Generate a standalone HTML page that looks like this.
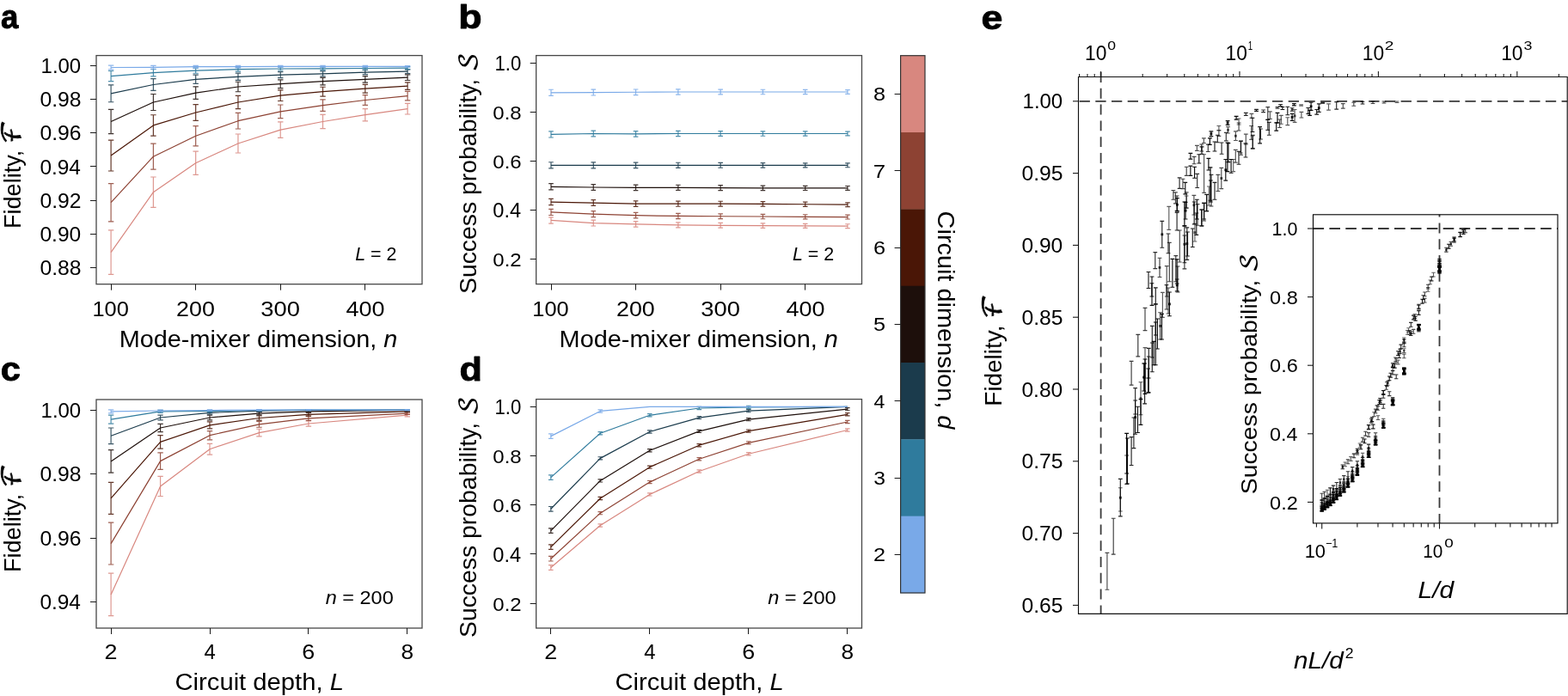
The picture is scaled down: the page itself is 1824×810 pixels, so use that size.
<!DOCTYPE html>
<html><head><meta charset="utf-8"><title>Figure</title>
<style>html,body{margin:0;padding:0;background:#fff;width:1824px;height:810px;overflow:hidden}
svg{display:block} text{font-family:"Liberation Sans", Arial, sans-serif;fill:#000}</style></head>
<body><svg width="1824" height="810" viewBox="0 0 1824 810">
<rect width="1824" height="810" fill="#fff"/>
<text transform="translate(1.09,33.35) scale(0.9286,1.0000)" font-size="39.5" stroke="#000" stroke-width="0.9" stroke-linejoin="round" style="fill:#000"><tspan font-weight="bold">a</tspan></text>
<text transform="translate(533.31,33.45) scale(1.1350,1.0000)" font-size="39.5" stroke="#000" stroke-width="0.9" stroke-linejoin="round" style="fill:#000"><tspan font-weight="bold">b</tspan></text>
<text transform="translate(0.77,443.45) scale(1.0545,1.0000)" font-size="39.5" stroke="#000" stroke-width="0.9" stroke-linejoin="round" style="fill:#000"><tspan font-weight="bold">c</tspan></text>
<text transform="translate(534.51,443.45) scale(1.0950,1.0000)" font-size="39.5" stroke="#000" stroke-width="0.9" stroke-linejoin="round" style="fill:#000"><tspan font-weight="bold">d</tspan></text>
<text transform="translate(1141.55,33.55) scale(1.1325,1.0000)" font-size="39.5" stroke="#000" stroke-width="0.9" stroke-linejoin="round" style="fill:#000"><tspan font-weight="bold">e</tspan></text>
<polyline points="129.10,293.60 178.38,223.70 227.67,189.70 276.95,167.00 326.24,151.10 375.52,141.50 424.81,133.70 474.10,126.70" fill="none" stroke="#D8877F" stroke-width="1.2" stroke-linejoin="round"/>
<path d="M129.10 267.81V319.39M125.90 267.81H132.30M125.90 319.39H132.30" stroke="#D8877F" stroke-width="1.2" fill="none" stroke-opacity="0.85"/>
<path d="M178.38 206.01V241.39M175.19 206.01H181.58M175.19 241.39H181.58" stroke="#D8877F" stroke-width="1.2" fill="none" stroke-opacity="0.85"/>
<path d="M227.67 176.07V203.33M224.47 176.07H230.87M224.47 203.33H230.87" stroke="#D8877F" stroke-width="1.2" fill="none" stroke-opacity="0.85"/>
<path d="M276.95 155.98V178.02M273.75 155.98H280.15M273.75 178.02H280.15" stroke="#D8877F" stroke-width="1.2" fill="none" stroke-opacity="0.85"/>
<path d="M326.24 141.88V160.32M323.04 141.88H329.44M323.04 160.32H329.44" stroke="#D8877F" stroke-width="1.2" fill="none" stroke-opacity="0.85"/>
<path d="M375.52 133.47V149.53M372.32 133.47H378.72M372.32 149.53H378.72" stroke="#D8877F" stroke-width="1.2" fill="none" stroke-opacity="0.85"/>
<path d="M424.81 126.61V140.79M421.61 126.61H428.01M421.61 140.79H428.01" stroke="#D8877F" stroke-width="1.2" fill="none" stroke-opacity="0.85"/>
<path d="M474.10 120.40V133.00M470.90 120.40H477.30M470.90 133.00H477.30" stroke="#D8877F" stroke-width="1.2" fill="none" stroke-opacity="0.85"/>
<polyline points="129.10,235.70 178.38,182.20 227.67,158.30 276.95,140.70 326.24,129.80 375.52,122.70 424.81,116.50 474.10,111.60" fill="none" stroke="#8D4233" stroke-width="1.2" stroke-linejoin="round"/>
<path d="M129.10 213.62V257.78M125.90 213.62H132.30M125.90 257.78H132.30" stroke="#8D4233" stroke-width="1.2" fill="none" stroke-opacity="0.85"/>
<path d="M178.38 167.21V197.19M175.19 167.21H181.58M175.19 197.19H181.58" stroke="#8D4233" stroke-width="1.2" fill="none" stroke-opacity="0.85"/>
<path d="M227.67 146.71V169.89M224.47 146.71H230.87M224.47 169.89H230.87" stroke="#8D4233" stroke-width="1.2" fill="none" stroke-opacity="0.85"/>
<path d="M276.95 131.42V149.98M273.75 131.42H280.15M273.75 149.98H280.15" stroke="#8D4233" stroke-width="1.2" fill="none" stroke-opacity="0.85"/>
<path d="M326.24 122.01V137.59M323.04 122.01H329.44M323.04 137.59H329.44" stroke="#8D4233" stroke-width="1.2" fill="none" stroke-opacity="0.85"/>
<path d="M375.52 115.93V129.47M372.32 115.93H378.72M372.32 129.47H378.72" stroke="#8D4233" stroke-width="1.2" fill="none" stroke-opacity="0.85"/>
<path d="M424.81 110.57V122.43M421.61 110.57H428.01M421.61 122.43H428.01" stroke="#8D4233" stroke-width="1.2" fill="none" stroke-opacity="0.85"/>
<path d="M474.10 106.33V116.87M470.90 106.33H477.30M470.90 116.87H477.30" stroke="#8D4233" stroke-width="1.2" fill="none" stroke-opacity="0.85"/>
<polyline points="129.10,181.10 178.38,145.90 227.67,131.00 276.95,119.00 326.24,111.20 375.52,106.70 424.81,103.20 474.10,100.10" fill="none" stroke="#4A1606" stroke-width="1.2" stroke-linejoin="round"/>
<path d="M129.10 163.20V199.00M125.90 163.20H132.30M125.90 199.00H132.30" stroke="#4A1606" stroke-width="1.2" fill="none" stroke-opacity="0.85"/>
<path d="M178.38 133.75V158.05M175.19 133.75H181.58M175.19 158.05H181.58" stroke="#4A1606" stroke-width="1.2" fill="none" stroke-opacity="0.85"/>
<path d="M227.67 121.54V140.46M224.47 121.54H230.87M224.47 140.46H230.87" stroke="#4A1606" stroke-width="1.2" fill="none" stroke-opacity="0.85"/>
<path d="M276.95 111.45V126.55M273.75 111.45H280.15M273.75 126.55H280.15" stroke="#4A1606" stroke-width="1.2" fill="none" stroke-opacity="0.85"/>
<path d="M326.24 104.91V117.49M323.04 104.91H329.44M323.04 117.49H329.44" stroke="#4A1606" stroke-width="1.2" fill="none" stroke-opacity="0.85"/>
<path d="M375.52 101.23V112.17M372.32 101.23H378.72M372.32 112.17H378.72" stroke="#4A1606" stroke-width="1.2" fill="none" stroke-opacity="0.85"/>
<path d="M424.81 98.35V108.05M421.61 98.35H428.01M421.61 108.05H428.01" stroke="#4A1606" stroke-width="1.2" fill="none" stroke-opacity="0.85"/>
<path d="M474.10 95.78V104.42M470.90 95.78H477.30M470.90 104.42H477.30" stroke="#4A1606" stroke-width="1.2" fill="none" stroke-opacity="0.85"/>
<polyline points="129.10,141.50 178.38,119.00 227.67,108.10 276.95,101.00 326.24,97.70 375.52,94.60 424.81,92.30 474.10,90.20" fill="none" stroke="#1D0F0B" stroke-width="1.2" stroke-linejoin="round"/>
<path d="M129.10 127.39V155.61M125.90 127.39H132.30M125.90 155.61H132.30" stroke="#1D0F0B" stroke-width="1.2" fill="none" stroke-opacity="0.85"/>
<path d="M178.38 109.49V128.51M175.19 109.49H181.58M175.19 128.51H181.58" stroke="#1D0F0B" stroke-width="1.2" fill="none" stroke-opacity="0.85"/>
<path d="M227.67 100.90V115.30M224.47 100.90H230.87M224.47 115.30H230.87" stroke="#1D0F0B" stroke-width="1.2" fill="none" stroke-opacity="0.85"/>
<path d="M276.95 95.26V106.74M273.75 95.26H280.15M273.75 106.74H280.15" stroke="#1D0F0B" stroke-width="1.2" fill="none" stroke-opacity="0.85"/>
<path d="M326.24 92.79V102.61M323.04 92.79H329.44M323.04 102.61H329.44" stroke="#1D0F0B" stroke-width="1.2" fill="none" stroke-opacity="0.85"/>
<path d="M375.52 90.36V98.84M372.32 90.36H378.72M372.32 98.84H378.72" stroke="#1D0F0B" stroke-width="1.2" fill="none" stroke-opacity="0.85"/>
<path d="M424.81 88.57V96.03M421.61 88.57H428.01M421.61 96.03H428.01" stroke="#1D0F0B" stroke-width="1.2" fill="none" stroke-opacity="0.85"/>
<path d="M474.10 86.91V93.49M470.90 86.91H477.30M470.90 93.49H477.30" stroke="#1D0F0B" stroke-width="1.2" fill="none" stroke-opacity="0.85"/>
<polyline points="129.10,108.80 178.38,98.50 227.67,92.30 276.95,89.30 326.24,87.20 375.52,85.90 424.81,84.10 474.10,83.20" fill="none" stroke="#1B3B4C" stroke-width="1.2" stroke-linejoin="round"/>
<path d="M129.10 98.85V118.75M125.90 98.85H132.30M125.90 118.75H132.30" stroke="#1B3B4C" stroke-width="1.2" fill="none" stroke-opacity="0.85"/>
<path d="M178.38 91.66V105.34M175.19 91.66H181.58M175.19 105.34H181.58" stroke="#1B3B4C" stroke-width="1.2" fill="none" stroke-opacity="0.85"/>
<path d="M227.67 87.21V97.39M224.47 87.21H230.87M224.47 97.39H230.87" stroke="#1B3B4C" stroke-width="1.2" fill="none" stroke-opacity="0.85"/>
<path d="M276.95 85.15V93.45M273.75 85.15H280.15M273.75 93.45H280.15" stroke="#1B3B4C" stroke-width="1.2" fill="none" stroke-opacity="0.85"/>
<path d="M326.24 83.71V90.69M323.04 83.71H329.44M323.04 90.69H329.44" stroke="#1B3B4C" stroke-width="1.2" fill="none" stroke-opacity="0.85"/>
<path d="M375.52 82.85V88.95M372.32 82.85H378.72M372.32 88.95H378.72" stroke="#1B3B4C" stroke-width="1.2" fill="none" stroke-opacity="0.85"/>
<path d="M424.81 81.51V86.69M421.61 81.51H428.01M421.61 86.69H428.01" stroke="#1B3B4C" stroke-width="1.2" fill="none" stroke-opacity="0.85"/>
<path d="M474.10 80.90V85.50M470.90 80.90H477.30M470.90 85.50H477.30" stroke="#1B3B4C" stroke-width="1.2" fill="none" stroke-opacity="0.85"/>
<polyline points="129.10,88.60 178.38,84.70 227.67,82.20 276.95,80.70 326.24,80.00 375.52,79.80 424.81,79.50 474.10,79.10" fill="none" stroke="#2F7B9D" stroke-width="1.2" stroke-linejoin="round"/>
<path d="M129.10 82.51V94.69M125.90 82.51H132.30M125.90 94.69H132.30" stroke="#2F7B9D" stroke-width="1.2" fill="none" stroke-opacity="0.85"/>
<path d="M178.38 80.52V88.88M175.19 80.52H181.58M175.19 88.88H181.58" stroke="#2F7B9D" stroke-width="1.2" fill="none" stroke-opacity="0.85"/>
<path d="M227.67 79.14V85.26M224.47 79.14H230.87M224.47 85.26H230.87" stroke="#2F7B9D" stroke-width="1.2" fill="none" stroke-opacity="0.85"/>
<path d="M276.95 78.33V83.07M273.75 78.33H280.15M273.75 83.07H280.15" stroke="#2F7B9D" stroke-width="1.2" fill="none" stroke-opacity="0.85"/>
<path d="M326.24 78.00V82.00M323.04 78.00H329.44M323.04 82.00H329.44" stroke="#2F7B9D" stroke-width="1.2" fill="none" stroke-opacity="0.85"/>
<path d="M375.52 77.99V81.61M372.32 77.99H378.72M372.32 81.61H378.72" stroke="#2F7B9D" stroke-width="1.2" fill="none" stroke-opacity="0.85"/>
<path d="M424.81 77.88V81.12M421.61 77.88H428.01M421.61 81.12H428.01" stroke="#2F7B9D" stroke-width="1.2" fill="none" stroke-opacity="0.85"/>
<path d="M474.10 77.67V80.53M470.90 77.67H477.30M470.90 80.53H477.30" stroke="#2F7B9D" stroke-width="1.2" fill="none" stroke-opacity="0.85"/>
<polyline points="129.10,78.50 178.38,78.30 227.67,77.70 276.95,77.70 326.24,77.30 375.52,77.30 424.81,77.30 474.10,77.30" fill="none" stroke="#79A9E8" stroke-width="1.2" stroke-linejoin="round"/>
<path d="M129.10 76.03V80.97M125.90 76.03H132.30M125.90 80.97H132.30" stroke="#79A9E8" stroke-width="1.2" fill="none" stroke-opacity="0.85"/>
<path d="M178.38 76.34V80.26M175.19 76.34H181.58M175.19 80.26H181.58" stroke="#79A9E8" stroke-width="1.2" fill="none" stroke-opacity="0.85"/>
<path d="M227.67 76.30V79.10M224.47 76.30H230.87M224.47 79.10H230.87" stroke="#79A9E8" stroke-width="1.2" fill="none" stroke-opacity="0.85"/>
<path d="M276.95 76.43V78.97M273.75 76.43H280.15M273.75 78.97H280.15" stroke="#79A9E8" stroke-width="1.2" fill="none" stroke-opacity="0.85"/>
<path d="M326.24 76.35V78.25M323.04 76.35H329.44M323.04 78.25H329.44" stroke="#79A9E8" stroke-width="1.2" fill="none" stroke-opacity="0.85"/>
<path d="M375.52 76.41V78.19M372.32 76.41H378.72M372.32 78.19H378.72" stroke="#79A9E8" stroke-width="1.2" fill="none" stroke-opacity="0.85"/>
<path d="M424.81 76.46V78.14M421.61 76.46H428.01M421.61 78.14H428.01" stroke="#79A9E8" stroke-width="1.2" fill="none" stroke-opacity="0.85"/>
<path d="M474.10 76.50V78.10M470.90 76.50H477.30M470.90 78.10H477.30" stroke="#79A9E8" stroke-width="1.2" fill="none" stroke-opacity="0.85"/>
<rect x="112.00" y="64.60" width="379.00" height="266.10" fill="none" stroke="#474747" stroke-width="1.3"/>
<line x1="105.00" y1="76.50" x2="112.00" y2="76.50" stroke="#1a1a1a" stroke-width="1.05"/>
<text transform="translate(47.58,85.25) scale(1.0414,1.0000)" font-size="23" ><tspan>1.00</tspan></text>
<line x1="105.00" y1="115.50" x2="112.00" y2="115.50" stroke="#1a1a1a" stroke-width="1.05"/>
<text transform="translate(46.39,124.35) scale(1.0744,1.0000)" font-size="23" ><tspan>0.98</tspan></text>
<line x1="105.00" y1="154.50" x2="112.00" y2="154.50" stroke="#1a1a1a" stroke-width="1.05"/>
<text transform="translate(46.39,163.45) scale(1.0744,1.0000)" font-size="23" ><tspan>0.96</tspan></text>
<line x1="105.00" y1="193.50" x2="112.00" y2="193.50" stroke="#1a1a1a" stroke-width="1.05"/>
<text transform="translate(46.40,202.55) scale(1.0621,1.0000)" font-size="23" ><tspan>0.94</tspan></text>
<line x1="105.00" y1="233.50" x2="112.00" y2="233.50" stroke="#1a1a1a" stroke-width="1.05"/>
<text transform="translate(46.39,241.65) scale(1.0744,1.0000)" font-size="23" ><tspan>0.92</tspan></text>
<line x1="105.00" y1="272.50" x2="112.00" y2="272.50" stroke="#1a1a1a" stroke-width="1.05"/>
<text transform="translate(46.40,280.75) scale(1.0682,1.0000)" font-size="23" ><tspan>0.90</tspan></text>
<line x1="105.00" y1="311.50" x2="112.00" y2="311.50" stroke="#1a1a1a" stroke-width="1.05"/>
<text transform="translate(46.39,319.85) scale(1.0744,1.0000)" font-size="23" ><tspan>0.88</tspan></text>
<line x1="129.50" y1="330.70" x2="129.50" y2="337.70" stroke="#1a1a1a" stroke-width="1.05"/>
<text transform="translate(107.42,368.30) scale(1.1049,1.0000)" font-size="23" ><tspan>100</tspan></text>
<line x1="227.50" y1="330.70" x2="227.50" y2="337.70" stroke="#1a1a1a" stroke-width="1.05"/>
<text transform="translate(205.06,368.30) scale(1.1669,1.0000)" font-size="23" ><tspan>200</tspan></text>
<line x1="326.50" y1="330.70" x2="326.50" y2="337.70" stroke="#1a1a1a" stroke-width="1.05"/>
<text transform="translate(303.35,368.30) scale(1.1890,1.0000)" font-size="23" ><tspan>300</tspan></text>
<line x1="424.50" y1="330.70" x2="424.50" y2="337.70" stroke="#1a1a1a" stroke-width="1.05"/>
<text transform="translate(402.52,368.30) scale(1.1730,1.0000)" font-size="23" ><tspan>400</tspan></text>
<text transform="translate(138.70,403.50) scale(1.0684,1.0000)" font-size="27" ><tspan>Mode-mixer dimension, </tspan><tspan font-style="italic">n</tspan></text>
<text transform="translate(413.19,303.00) scale(0.9531,1.0000)" font-size="22.5" ><tspan font-style="italic">L</tspan><tspan> = 2</tspan></text>
<text transform="translate(24.20,265.95) rotate(-90) scale(1.0016,1.0000)" font-size="27" ><tspan>Fidelity, </tspan><tspan stroke="#111" stroke-width="0.9" font-family='"DejaVu Math TeX Gyre", "DejaVu Sans", serif' font-size="1.100em">ℱ</tspan></text>
<polyline points="641.00,256.45 690.28,259.56 739.57,260.96 788.86,261.87 838.14,262.30 887.42,262.59 936.71,262.87 986.00,263.16" fill="none" stroke="#D8877F" stroke-width="1.2" stroke-linejoin="round"/>
<path d="M641.00 252.85V260.05M638.20 252.85H643.80M638.20 260.05H643.80" stroke="#D8877F" stroke-width="1.2" fill="none" stroke-opacity="0.85"/>
<path d="M690.28 256.13V262.99M687.49 256.13H693.08M687.49 262.99H693.08" stroke="#D8877F" stroke-width="1.2" fill="none" stroke-opacity="0.85"/>
<path d="M739.57 257.70V264.22M736.77 257.70H742.37M736.77 264.22H742.37" stroke="#D8877F" stroke-width="1.2" fill="none" stroke-opacity="0.85"/>
<path d="M788.86 258.79V264.96M786.06 258.79H791.65M786.06 264.96H791.65" stroke="#D8877F" stroke-width="1.2" fill="none" stroke-opacity="0.85"/>
<path d="M838.14 259.39V265.22M835.34 259.39H840.94M835.34 265.22H840.94" stroke="#D8877F" stroke-width="1.2" fill="none" stroke-opacity="0.85"/>
<path d="M887.42 259.84V265.33M884.62 259.84H890.22M884.62 265.33H890.22" stroke="#D8877F" stroke-width="1.2" fill="none" stroke-opacity="0.85"/>
<path d="M936.71 260.30V265.44M933.91 260.30H939.51M933.91 265.44H939.51" stroke="#D8877F" stroke-width="1.2" fill="none" stroke-opacity="0.85"/>
<path d="M986.00 260.76V265.56M983.20 260.76H988.79M983.20 265.56H988.79" stroke="#D8877F" stroke-width="1.2" fill="none" stroke-opacity="0.85"/>
<polyline points="641.00,246.91 690.28,249.11 739.57,250.71 788.86,251.45 838.14,251.74 887.42,252.02 936.71,252.31 986.00,252.59" fill="none" stroke="#8D4233" stroke-width="1.2" stroke-linejoin="round"/>
<path d="M641.00 243.31V250.51M638.20 243.31H643.80M638.20 250.51H643.80" stroke="#8D4233" stroke-width="1.2" fill="none" stroke-opacity="0.85"/>
<path d="M690.28 245.68V252.54M687.49 245.68H693.08M687.49 252.54H693.08" stroke="#8D4233" stroke-width="1.2" fill="none" stroke-opacity="0.85"/>
<path d="M739.57 247.45V253.97M736.77 247.45H742.37M736.77 253.97H742.37" stroke="#8D4233" stroke-width="1.2" fill="none" stroke-opacity="0.85"/>
<path d="M788.86 248.37V254.54M786.06 248.37H791.65M786.06 254.54H791.65" stroke="#8D4233" stroke-width="1.2" fill="none" stroke-opacity="0.85"/>
<path d="M838.14 248.82V254.65M835.34 248.82H840.94M835.34 254.65H840.94" stroke="#8D4233" stroke-width="1.2" fill="none" stroke-opacity="0.85"/>
<path d="M887.42 249.28V254.77M884.62 249.28H890.22M884.62 254.77H890.22" stroke="#8D4233" stroke-width="1.2" fill="none" stroke-opacity="0.85"/>
<path d="M936.71 249.74V254.88M933.91 249.74H939.51M933.91 254.88H939.51" stroke="#8D4233" stroke-width="1.2" fill="none" stroke-opacity="0.85"/>
<path d="M986.00 250.19V254.99M983.20 250.19H988.79M983.20 254.99H988.79" stroke="#8D4233" stroke-width="1.2" fill="none" stroke-opacity="0.85"/>
<polyline points="641.00,235.06 690.28,236.04 739.57,237.06 788.86,237.18 838.14,237.18 887.42,237.46 936.71,237.75 986.00,238.18" fill="none" stroke="#4A1606" stroke-width="1.2" stroke-linejoin="round"/>
<path d="M641.00 231.46V238.66M638.20 231.46H643.80M638.20 238.66H643.80" stroke="#4A1606" stroke-width="1.2" fill="none" stroke-opacity="0.85"/>
<path d="M690.28 232.61V239.46M687.49 232.61H693.08M687.49 239.46H693.08" stroke="#4A1606" stroke-width="1.2" fill="none" stroke-opacity="0.85"/>
<path d="M739.57 233.81V240.32M736.77 233.81H742.37M736.77 240.32H742.37" stroke="#4A1606" stroke-width="1.2" fill="none" stroke-opacity="0.85"/>
<path d="M788.86 234.09V240.26M786.06 234.09H791.65M786.06 240.26H791.65" stroke="#4A1606" stroke-width="1.2" fill="none" stroke-opacity="0.85"/>
<path d="M838.14 234.26V240.09M835.34 234.26H840.94M835.34 240.09H840.94" stroke="#4A1606" stroke-width="1.2" fill="none" stroke-opacity="0.85"/>
<path d="M887.42 234.72V240.21M884.62 234.72H890.22M884.62 240.21H890.22" stroke="#4A1606" stroke-width="1.2" fill="none" stroke-opacity="0.85"/>
<path d="M936.71 235.18V240.32M933.91 235.18H939.51M933.91 240.32H939.51" stroke="#4A1606" stroke-width="1.2" fill="none" stroke-opacity="0.85"/>
<path d="M986.00 235.78V240.58M983.20 235.78H988.79M983.20 240.58H988.79" stroke="#4A1606" stroke-width="1.2" fill="none" stroke-opacity="0.85"/>
<polyline points="641.00,217.31 690.28,217.99 739.57,218.33 788.86,218.33 838.14,218.62 887.42,218.90 936.71,218.90 986.00,218.90" fill="none" stroke="#1D0F0B" stroke-width="1.2" stroke-linejoin="round"/>
<path d="M641.00 213.71V220.91M638.20 213.71H643.80M638.20 220.91H643.80" stroke="#1D0F0B" stroke-width="1.2" fill="none" stroke-opacity="0.85"/>
<path d="M690.28 214.56V221.42M687.49 214.56H693.08M687.49 221.42H693.08" stroke="#1D0F0B" stroke-width="1.2" fill="none" stroke-opacity="0.85"/>
<path d="M739.57 215.08V221.59M736.77 215.08H742.37M736.77 221.59H742.37" stroke="#1D0F0B" stroke-width="1.2" fill="none" stroke-opacity="0.85"/>
<path d="M788.86 215.25V221.42M786.06 215.25H791.65M786.06 221.42H791.65" stroke="#1D0F0B" stroke-width="1.2" fill="none" stroke-opacity="0.85"/>
<path d="M838.14 215.71V221.53M835.34 215.71H840.94M835.34 221.53H840.94" stroke="#1D0F0B" stroke-width="1.2" fill="none" stroke-opacity="0.85"/>
<path d="M887.42 216.16V221.65M884.62 216.16H890.22M884.62 221.65H890.22" stroke="#1D0F0B" stroke-width="1.2" fill="none" stroke-opacity="0.85"/>
<path d="M936.71 216.33V221.48M933.91 216.33H939.51M933.91 221.48H939.51" stroke="#1D0F0B" stroke-width="1.2" fill="none" stroke-opacity="0.85"/>
<path d="M986.00 216.50V221.30M983.20 216.50H988.79M983.20 221.30H988.79" stroke="#1D0F0B" stroke-width="1.2" fill="none" stroke-opacity="0.85"/>
<polyline points="641.00,192.35 690.28,192.35 739.57,192.35 788.86,192.35 838.14,192.35 887.42,192.35 936.71,192.35 986.00,192.35" fill="none" stroke="#1B3B4C" stroke-width="1.2" stroke-linejoin="round"/>
<path d="M641.00 188.75V195.95M638.20 188.75H643.80M638.20 195.95H643.80" stroke="#1B3B4C" stroke-width="1.2" fill="none" stroke-opacity="0.85"/>
<path d="M690.28 188.92V195.78M687.49 188.92H693.08M687.49 195.78H693.08" stroke="#1B3B4C" stroke-width="1.2" fill="none" stroke-opacity="0.85"/>
<path d="M739.57 189.10V195.61M736.77 189.10H742.37M736.77 195.61H742.37" stroke="#1B3B4C" stroke-width="1.2" fill="none" stroke-opacity="0.85"/>
<path d="M788.86 189.27V195.44M786.06 189.27H791.65M786.06 195.44H791.65" stroke="#1B3B4C" stroke-width="1.2" fill="none" stroke-opacity="0.85"/>
<path d="M838.14 189.44V195.27M835.34 189.44H840.94M835.34 195.27H840.94" stroke="#1B3B4C" stroke-width="1.2" fill="none" stroke-opacity="0.85"/>
<path d="M887.42 189.61V195.10M884.62 189.61H890.22M884.62 195.10H890.22" stroke="#1B3B4C" stroke-width="1.2" fill="none" stroke-opacity="0.85"/>
<path d="M936.71 189.78V194.92M933.91 189.78H939.51M933.91 194.92H939.51" stroke="#1B3B4C" stroke-width="1.2" fill="none" stroke-opacity="0.85"/>
<path d="M986.00 189.95V194.75M983.20 189.95H988.79M983.20 194.75H988.79" stroke="#1B3B4C" stroke-width="1.2" fill="none" stroke-opacity="0.85"/>
<polyline points="641.00,156.38 690.28,155.52 739.57,155.81 788.86,155.52 838.14,155.52 887.42,155.52 936.71,155.52 986.00,155.52" fill="none" stroke="#2F7B9D" stroke-width="1.2" stroke-linejoin="round"/>
<path d="M641.00 152.78V159.98M638.20 152.78H643.80M638.20 159.98H643.80" stroke="#2F7B9D" stroke-width="1.2" fill="none" stroke-opacity="0.85"/>
<path d="M690.28 152.10V158.95M687.49 152.10H693.08M687.49 158.95H693.08" stroke="#2F7B9D" stroke-width="1.2" fill="none" stroke-opacity="0.85"/>
<path d="M739.57 152.55V159.07M736.77 152.55H742.37M736.77 159.07H742.37" stroke="#2F7B9D" stroke-width="1.2" fill="none" stroke-opacity="0.85"/>
<path d="M788.86 152.44V158.61M786.06 152.44H791.65M786.06 158.61H791.65" stroke="#2F7B9D" stroke-width="1.2" fill="none" stroke-opacity="0.85"/>
<path d="M838.14 152.61V158.44M835.34 152.61H840.94M835.34 158.44H840.94" stroke="#2F7B9D" stroke-width="1.2" fill="none" stroke-opacity="0.85"/>
<path d="M887.42 152.78V158.27M884.62 152.78H890.22M884.62 158.27H890.22" stroke="#2F7B9D" stroke-width="1.2" fill="none" stroke-opacity="0.85"/>
<path d="M936.71 152.95V158.10M933.91 152.95H939.51M933.91 158.10H939.51" stroke="#2F7B9D" stroke-width="1.2" fill="none" stroke-opacity="0.85"/>
<path d="M986.00 153.12V157.92M983.20 153.12H988.79M983.20 157.92H988.79" stroke="#2F7B9D" stroke-width="1.2" fill="none" stroke-opacity="0.85"/>
<polyline points="641.00,107.85 690.28,107.56 739.57,107.27 788.86,106.99 838.14,106.99 887.42,106.99 936.71,106.99 986.00,106.99" fill="none" stroke="#79A9E8" stroke-width="1.2" stroke-linejoin="round"/>
<path d="M641.00 104.25V111.45M638.20 104.25H643.80M638.20 111.45H643.80" stroke="#79A9E8" stroke-width="1.2" fill="none" stroke-opacity="0.85"/>
<path d="M690.28 104.13V110.99M687.49 104.13H693.08M687.49 110.99H693.08" stroke="#79A9E8" stroke-width="1.2" fill="none" stroke-opacity="0.85"/>
<path d="M739.57 104.02V110.53M736.77 104.02H742.37M736.77 110.53H742.37" stroke="#79A9E8" stroke-width="1.2" fill="none" stroke-opacity="0.85"/>
<path d="M788.86 103.90V110.07M786.06 103.90H791.65M786.06 110.07H791.65" stroke="#79A9E8" stroke-width="1.2" fill="none" stroke-opacity="0.85"/>
<path d="M838.14 104.07V109.90M835.34 104.07H840.94M835.34 109.90H840.94" stroke="#79A9E8" stroke-width="1.2" fill="none" stroke-opacity="0.85"/>
<path d="M887.42 104.25V109.73M884.62 104.25H890.22M884.62 109.73H890.22" stroke="#79A9E8" stroke-width="1.2" fill="none" stroke-opacity="0.85"/>
<path d="M936.71 104.42V109.56M933.91 104.42H939.51M933.91 109.56H939.51" stroke="#79A9E8" stroke-width="1.2" fill="none" stroke-opacity="0.85"/>
<path d="M986.00 104.59V109.39M983.20 104.59H988.79M983.20 109.39H988.79" stroke="#79A9E8" stroke-width="1.2" fill="none" stroke-opacity="0.85"/>
<rect x="623.70" y="64.60" width="378.80" height="266.00" fill="none" stroke="#474747" stroke-width="1.3"/>
<line x1="616.70" y1="73.50" x2="623.70" y2="73.50" stroke="#1a1a1a" stroke-width="1.05"/>
<text transform="translate(575.51,81.95) scale(0.9661,1.0000)" font-size="23" ><tspan>1.0</tspan></text>
<line x1="616.70" y1="130.50" x2="623.70" y2="130.50" stroke="#1a1a1a" stroke-width="1.05"/>
<text transform="translate(573.32,139.05) scale(1.0446,1.0000)" font-size="23" ><tspan>0.8</tspan></text>
<line x1="616.70" y1="187.50" x2="623.70" y2="187.50" stroke="#1a1a1a" stroke-width="1.05"/>
<text transform="translate(573.32,196.15) scale(1.0446,1.0000)" font-size="23" ><tspan>0.6</tspan></text>
<line x1="616.70" y1="244.50" x2="623.70" y2="244.50" stroke="#1a1a1a" stroke-width="1.05"/>
<text transform="translate(573.33,253.25) scale(1.0276,1.0000)" font-size="23" ><tspan>0.4</tspan></text>
<line x1="616.70" y1="301.50" x2="623.70" y2="301.50" stroke="#1a1a1a" stroke-width="1.05"/>
<text transform="translate(573.32,310.35) scale(1.0446,1.0000)" font-size="23" ><tspan>0.2</tspan></text>
<line x1="641.50" y1="330.60" x2="641.50" y2="337.60" stroke="#1a1a1a" stroke-width="1.05"/>
<text transform="translate(619.32,368.30) scale(1.1049,1.0000)" font-size="23" ><tspan>100</tspan></text>
<line x1="739.50" y1="330.60" x2="739.50" y2="337.60" stroke="#1a1a1a" stroke-width="1.05"/>
<text transform="translate(716.96,368.30) scale(1.1669,1.0000)" font-size="23" ><tspan>200</tspan></text>
<line x1="838.50" y1="330.60" x2="838.50" y2="337.60" stroke="#1a1a1a" stroke-width="1.05"/>
<text transform="translate(815.25,368.30) scale(1.1890,1.0000)" font-size="23" ><tspan>300</tspan></text>
<line x1="936.50" y1="330.60" x2="936.50" y2="337.60" stroke="#1a1a1a" stroke-width="1.05"/>
<text transform="translate(914.42,368.30) scale(1.1730,1.0000)" font-size="23" ><tspan>400</tspan></text>
<text transform="translate(650.59,403.50) scale(1.0701,1.0000)" font-size="27" ><tspan>Mode-mixer dimension, </tspan><tspan font-style="italic">n</tspan></text>
<text transform="translate(921.99,303.00) scale(0.9531,1.0000)" font-size="22.5" ><tspan font-style="italic">L</tspan><tspan> = 2</tspan></text>
<text transform="translate(553.90,342.01) rotate(-90) scale(1.0510,1.0000)" font-size="27" ><tspan>Success probability, </tspan><tspan font-family='"DejaVu Math TeX Gyre", "DejaVu Sans", serif' font-size="1.050em">𝒮</tspan></text>
<polyline points="129.10,691.90 186.55,565.90 244.00,522.70 301.45,503.60 358.90,493.00 473.80,483.20" fill="none" stroke="#D8877F" stroke-width="1.2" stroke-linejoin="round"/>
<path d="M129.10 667.20V716.60M125.90 667.20H132.30M125.90 716.60H132.30" stroke="#D8877F" stroke-width="1.2" fill="none" stroke-opacity="0.85"/>
<path d="M186.55 554.30V577.50M183.35 554.30H189.75M183.35 577.50H189.75" stroke="#D8877F" stroke-width="1.2" fill="none" stroke-opacity="0.85"/>
<path d="M244.00 516.29V529.11M240.80 516.29H247.20M240.80 529.11H247.20" stroke="#D8877F" stroke-width="1.2" fill="none" stroke-opacity="0.85"/>
<path d="M301.45 499.23V507.97M298.25 499.23H304.65M298.25 507.97H304.65" stroke="#D8877F" stroke-width="1.2" fill="none" stroke-opacity="0.85"/>
<path d="M358.90 489.82V496.18M355.70 489.82H362.10M355.70 496.18H362.10" stroke="#D8877F" stroke-width="1.2" fill="none" stroke-opacity="0.85"/>
<path d="M473.80 481.49V484.91M470.60 481.49H477.00M470.60 484.91H477.00" stroke="#D8877F" stroke-width="1.2" fill="none" stroke-opacity="0.85"/>
<polyline points="129.10,632.60 186.55,536.60 244.00,506.70 301.45,493.80 358.90,486.90 473.80,481.10" fill="none" stroke="#8D4233" stroke-width="1.2" stroke-linejoin="round"/>
<path d="M129.10 608.20V657.00M125.90 608.20H132.30M125.90 657.00H132.30" stroke="#8D4233" stroke-width="1.2" fill="none" stroke-opacity="0.85"/>
<path d="M186.55 526.90V546.30M183.35 526.90H189.75M183.35 546.30H189.75" stroke="#8D4233" stroke-width="1.2" fill="none" stroke-opacity="0.85"/>
<path d="M244.00 501.54V511.86M240.80 501.54H247.20M240.80 511.86H247.20" stroke="#8D4233" stroke-width="1.2" fill="none" stroke-opacity="0.85"/>
<path d="M301.45 490.34V497.26M298.25 490.34H304.65M298.25 497.26H304.65" stroke="#8D4233" stroke-width="1.2" fill="none" stroke-opacity="0.85"/>
<path d="M358.90 484.41V489.39M355.70 484.41H362.10M355.70 489.39H362.10" stroke="#8D4233" stroke-width="1.2" fill="none" stroke-opacity="0.85"/>
<path d="M473.80 479.72V482.48M470.60 479.72H477.00M470.60 482.48H477.00" stroke="#8D4233" stroke-width="1.2" fill="none" stroke-opacity="0.85"/>
<polyline points="129.10,579.80 186.55,514.40 244.00,494.90 301.45,486.50 358.90,482.30 473.80,478.80" fill="none" stroke="#4A1606" stroke-width="1.2" stroke-linejoin="round"/>
<path d="M129.10 561.30V598.30M125.90 561.30H132.30M125.90 598.30H132.30" stroke="#4A1606" stroke-width="1.2" fill="none" stroke-opacity="0.85"/>
<path d="M186.55 506.70V522.10M183.35 506.70H189.75M183.35 522.10H189.75" stroke="#4A1606" stroke-width="1.2" fill="none" stroke-opacity="0.85"/>
<path d="M244.00 490.90V498.90M240.80 490.90H247.20M240.80 498.90H247.20" stroke="#4A1606" stroke-width="1.2" fill="none" stroke-opacity="0.85"/>
<path d="M301.45 483.91V489.09M298.25 483.91H304.65M298.25 489.09H304.65" stroke="#4A1606" stroke-width="1.2" fill="none" stroke-opacity="0.85"/>
<path d="M358.90 480.49V484.11M355.70 480.49H362.10M355.70 484.11H362.10" stroke="#4A1606" stroke-width="1.2" fill="none" stroke-opacity="0.85"/>
<path d="M473.80 477.91V479.69M470.60 477.91H477.00M470.60 479.69H477.00" stroke="#4A1606" stroke-width="1.2" fill="none" stroke-opacity="0.85"/>
<polyline points="129.10,536.90 186.55,498.00 244.00,486.00 301.45,481.10 358.90,478.80 473.80,477.40" fill="none" stroke="#1D0F0B" stroke-width="1.2" stroke-linejoin="round"/>
<path d="M129.10 523.60V550.20M125.90 523.60H132.30M125.90 550.20H132.30" stroke="#1D0F0B" stroke-width="1.2" fill="none" stroke-opacity="0.85"/>
<path d="M186.55 493.40V502.60M183.35 493.40H189.75M183.35 502.60H189.75" stroke="#1D0F0B" stroke-width="1.2" fill="none" stroke-opacity="0.85"/>
<path d="M244.00 483.18V488.82M240.80 483.18H247.20M240.80 488.82H247.20" stroke="#1D0F0B" stroke-width="1.2" fill="none" stroke-opacity="0.85"/>
<path d="M301.45 479.42V482.78M298.25 479.42H304.65M298.25 482.78H304.65" stroke="#1D0F0B" stroke-width="1.2" fill="none" stroke-opacity="0.85"/>
<path d="M358.90 477.79V479.81M355.70 477.79H362.10M355.70 479.81H362.10" stroke="#1D0F0B" stroke-width="1.2" fill="none" stroke-opacity="0.85"/>
<path d="M473.80 476.91V477.89M470.60 476.91H477.00M470.60 477.89H477.00" stroke="#1D0F0B" stroke-width="1.2" fill="none" stroke-opacity="0.85"/>
<polyline points="129.10,507.30 186.55,486.00 244.00,480.40 301.45,478.20 358.90,477.40 473.80,477.20" fill="none" stroke="#1B3B4C" stroke-width="1.2" stroke-linejoin="round"/>
<path d="M129.10 498.00V516.60M125.90 498.00H132.30M125.90 516.60H132.30" stroke="#1B3B4C" stroke-width="1.2" fill="none" stroke-opacity="0.85"/>
<path d="M186.55 483.20V488.80M183.35 483.20H189.75M183.35 488.80H189.75" stroke="#1B3B4C" stroke-width="1.2" fill="none" stroke-opacity="0.85"/>
<path d="M244.00 478.70V482.10M240.80 478.70H247.20M240.80 482.10H247.20" stroke="#1B3B4C" stroke-width="1.2" fill="none" stroke-opacity="0.85"/>
<path d="M301.45 477.35V479.05M298.25 477.35H304.65M298.25 479.05H304.65" stroke="#1B3B4C" stroke-width="1.2" fill="none" stroke-opacity="0.85"/>
<path d="M358.90 476.83V477.97M355.70 476.83H362.10M355.70 477.97H362.10" stroke="#1B3B4C" stroke-width="1.2" fill="none" stroke-opacity="0.85"/>
<path d="M473.80 476.71V477.69M470.60 476.71H477.00M470.60 477.69H477.00" stroke="#1B3B4C" stroke-width="1.2" fill="none" stroke-opacity="0.85"/>
<polyline points="129.10,488.10 186.55,478.90 244.00,478.50 301.45,477.50 358.90,477.20 473.80,477.20" fill="none" stroke="#2F7B9D" stroke-width="1.2" stroke-linejoin="round"/>
<path d="M129.10 483.10V493.10M125.90 483.10H132.30M125.90 493.10H132.30" stroke="#2F7B9D" stroke-width="1.2" fill="none" stroke-opacity="0.85"/>
<path d="M186.55 477.40V480.40M183.35 477.40H189.75M183.35 480.40H189.75" stroke="#2F7B9D" stroke-width="1.2" fill="none" stroke-opacity="0.85"/>
<path d="M244.00 477.42V479.58M240.80 477.42H247.20M240.80 479.58H247.20" stroke="#2F7B9D" stroke-width="1.2" fill="none" stroke-opacity="0.85"/>
<path d="M301.45 476.90V478.10M298.25 476.90H304.65M298.25 478.10H304.65" stroke="#2F7B9D" stroke-width="1.2" fill="none" stroke-opacity="0.85"/>
<path d="M358.90 476.63V477.77M355.70 476.63H362.10M355.70 477.77H362.10" stroke="#2F7B9D" stroke-width="1.2" fill="none" stroke-opacity="0.85"/>
<path d="M473.80 476.71V477.69M470.60 476.71H477.00M470.60 477.69H477.00" stroke="#2F7B9D" stroke-width="1.2" fill="none" stroke-opacity="0.85"/>
<polyline points="129.10,478.90 186.55,478.00 244.00,477.50 301.45,477.20 358.90,477.10 473.80,477.10" fill="none" stroke="#79A9E8" stroke-width="1.2" stroke-linejoin="round"/>
<path d="M129.10 476.90V480.90M125.90 476.90H132.30M125.90 480.90H132.30" stroke="#79A9E8" stroke-width="1.2" fill="none" stroke-opacity="0.85"/>
<path d="M186.55 477.00V479.00M183.35 477.00H189.75M183.35 479.00H189.75" stroke="#79A9E8" stroke-width="1.2" fill="none" stroke-opacity="0.85"/>
<path d="M244.00 476.83V478.17M240.80 476.83H247.20M240.80 478.17H247.20" stroke="#79A9E8" stroke-width="1.2" fill="none" stroke-opacity="0.85"/>
<path d="M301.45 476.60V477.80M298.25 476.60H304.65M298.25 477.80H304.65" stroke="#79A9E8" stroke-width="1.2" fill="none" stroke-opacity="0.85"/>
<path d="M358.90 476.53V477.67M355.70 476.53H362.10M355.70 477.67H362.10" stroke="#79A9E8" stroke-width="1.2" fill="none" stroke-opacity="0.85"/>
<path d="M473.80 476.61V477.59M470.60 476.61H477.00M470.60 477.59H477.00" stroke="#79A9E8" stroke-width="1.2" fill="none" stroke-opacity="0.85"/>
<rect x="112.00" y="465.00" width="379.00" height="266.00" fill="none" stroke="#474747" stroke-width="1.3"/>
<line x1="105.00" y1="477.50" x2="112.00" y2="477.50" stroke="#1a1a1a" stroke-width="1.05"/>
<text transform="translate(47.58,485.85) scale(1.0414,1.0000)" font-size="23" ><tspan>1.00</tspan></text>
<line x1="105.00" y1="551.50" x2="112.00" y2="551.50" stroke="#1a1a1a" stroke-width="1.05"/>
<text transform="translate(46.39,560.25) scale(1.0744,1.0000)" font-size="23" ><tspan>0.98</tspan></text>
<line x1="105.00" y1="626.50" x2="112.00" y2="626.50" stroke="#1a1a1a" stroke-width="1.05"/>
<text transform="translate(46.39,634.65) scale(1.0744,1.0000)" font-size="23" ><tspan>0.96</tspan></text>
<line x1="105.00" y1="700.50" x2="112.00" y2="700.50" stroke="#1a1a1a" stroke-width="1.05"/>
<text transform="translate(46.40,709.05) scale(1.0621,1.0000)" font-size="23" ><tspan>0.94</tspan></text>
<line x1="129.50" y1="731.00" x2="129.50" y2="738.00" stroke="#1a1a1a" stroke-width="1.05"/>
<text transform="translate(121.49,767.40) scale(1.1714,1.0000)" font-size="23" ><tspan>2</tspan></text>
<line x1="244.50" y1="731.00" x2="244.50" y2="738.00" stroke="#1a1a1a" stroke-width="1.05"/>
<text transform="translate(237.38,767.40) scale(1.0383,1.0000)" font-size="23" ><tspan>4</tspan></text>
<line x1="358.50" y1="731.00" x2="358.50" y2="738.00" stroke="#1a1a1a" stroke-width="1.05"/>
<text transform="translate(351.29,767.40) scale(1.1714,1.0000)" font-size="23" ><tspan>6</tspan></text>
<line x1="473.50" y1="731.00" x2="473.50" y2="738.00" stroke="#1a1a1a" stroke-width="1.05"/>
<text transform="translate(466.51,767.40) scale(1.1442,1.0000)" font-size="23" ><tspan>8</tspan></text>
<text transform="translate(203.45,803.00) scale(1.0827,1.0000)" font-size="27" ><tspan>Circuit depth, </tspan><tspan font-style="italic">L</tspan></text>
<text transform="translate(378.64,703.00) scale(1.0448,1.0000)" font-size="22.5" ><tspan font-style="italic">n</tspan><tspan> = 200</tspan></text>
<text transform="translate(24.20,665.95) rotate(-90) scale(1.0016,1.0000)" font-size="27" ><tspan>Fidelity, </tspan><tspan stroke="#111" stroke-width="0.9" font-family='"DejaVu Math TeX Gyre", "DejaVu Sans", serif' font-size="1.100em">ℱ</tspan></text>
<polyline points="640.80,660.49 698.30,611.44 755.80,575.40 813.30,548.52 870.80,528.21 985.80,500.47" fill="none" stroke="#D8877F" stroke-width="1.2" stroke-linejoin="round"/>
<path d="M640.80 657.69V663.29M638.00 657.69H643.60M638.00 663.29H643.60" stroke="#D8877F" stroke-width="1.2" fill="none" stroke-opacity="0.85"/>
<path d="M698.30 609.84V613.04M695.50 609.84H701.10M695.50 613.04H701.10" stroke="#D8877F" stroke-width="1.2" fill="none" stroke-opacity="0.85"/>
<path d="M755.80 573.80V577.00M753.00 573.80H758.60M753.00 577.00H758.60" stroke="#D8877F" stroke-width="1.2" fill="none" stroke-opacity="0.85"/>
<path d="M813.30 546.92V550.12M810.50 546.92H816.10M810.50 550.12H816.10" stroke="#D8877F" stroke-width="1.2" fill="none" stroke-opacity="0.85"/>
<path d="M870.80 526.61V529.81M868.00 526.61H873.60M868.00 529.81H873.60" stroke="#D8877F" stroke-width="1.2" fill="none" stroke-opacity="0.85"/>
<path d="M985.80 498.87V502.07M983.00 498.87H988.60M983.00 502.07H988.60" stroke="#D8877F" stroke-width="1.2" fill="none" stroke-opacity="0.85"/>
<polyline points="640.80,650.19 698.30,597.14 755.80,561.10 813.30,534.22 870.80,515.34 985.80,491.03" fill="none" stroke="#8D4233" stroke-width="1.2" stroke-linejoin="round"/>
<path d="M640.80 647.39V652.99M638.00 647.39H643.60M638.00 652.99H643.60" stroke="#8D4233" stroke-width="1.2" fill="none" stroke-opacity="0.85"/>
<path d="M698.30 595.54V598.74M695.50 595.54H701.10M695.50 598.74H701.10" stroke="#8D4233" stroke-width="1.2" fill="none" stroke-opacity="0.85"/>
<path d="M755.80 559.50V562.70M753.00 559.50H758.60M753.00 562.70H758.60" stroke="#8D4233" stroke-width="1.2" fill="none" stroke-opacity="0.85"/>
<path d="M813.30 532.62V535.82M810.50 532.62H816.10M810.50 535.82H816.10" stroke="#8D4233" stroke-width="1.2" fill="none" stroke-opacity="0.85"/>
<path d="M870.80 513.74V516.94M868.00 513.74H873.60M868.00 516.94H873.60" stroke="#8D4233" stroke-width="1.2" fill="none" stroke-opacity="0.85"/>
<path d="M985.80 489.43V492.63M983.00 489.43H988.60M983.00 492.63H988.60" stroke="#8D4233" stroke-width="1.2" fill="none" stroke-opacity="0.85"/>
<polyline points="640.80,636.61 698.30,579.98 755.80,543.66 813.30,518.20 870.80,501.61 985.80,482.31" fill="none" stroke="#4A1606" stroke-width="1.2" stroke-linejoin="round"/>
<path d="M640.80 633.81V639.41M638.00 633.81H643.60M638.00 639.41H643.60" stroke="#4A1606" stroke-width="1.2" fill="none" stroke-opacity="0.85"/>
<path d="M698.30 578.38V581.58M695.50 578.38H701.10M695.50 581.58H701.10" stroke="#4A1606" stroke-width="1.2" fill="none" stroke-opacity="0.85"/>
<path d="M755.80 542.06V545.26M753.00 542.06H758.60M753.00 545.26H758.60" stroke="#4A1606" stroke-width="1.2" fill="none" stroke-opacity="0.85"/>
<path d="M813.30 516.60V519.80M810.50 516.60H816.10M810.50 519.80H816.10" stroke="#4A1606" stroke-width="1.2" fill="none" stroke-opacity="0.85"/>
<path d="M870.80 500.01V503.21M868.00 500.01H873.60M868.00 503.21H873.60" stroke="#4A1606" stroke-width="1.2" fill="none" stroke-opacity="0.85"/>
<path d="M985.80 480.71V483.91M983.00 480.71H988.60M983.00 483.91H988.60" stroke="#4A1606" stroke-width="1.2" fill="none" stroke-opacity="0.85"/>
<polyline points="640.80,617.59 698.30,559.39 755.80,524.21 813.30,501.90 870.80,488.17 985.80,476.16" fill="none" stroke="#1D0F0B" stroke-width="1.2" stroke-linejoin="round"/>
<path d="M640.80 614.79V620.39M638.00 614.79H643.60M638.00 620.39H643.60" stroke="#1D0F0B" stroke-width="1.2" fill="none" stroke-opacity="0.85"/>
<path d="M698.30 557.79V560.99M695.50 557.79H701.10M695.50 560.99H701.10" stroke="#1D0F0B" stroke-width="1.2" fill="none" stroke-opacity="0.85"/>
<path d="M755.80 522.61V525.81M753.00 522.61H758.60M753.00 525.81H758.60" stroke="#1D0F0B" stroke-width="1.2" fill="none" stroke-opacity="0.85"/>
<path d="M813.30 500.30V503.50M810.50 500.30H816.10M810.50 503.50H816.10" stroke="#1D0F0B" stroke-width="1.2" fill="none" stroke-opacity="0.85"/>
<path d="M870.80 486.57V489.77M868.00 486.57H873.60M868.00 489.77H873.60" stroke="#1D0F0B" stroke-width="1.2" fill="none" stroke-opacity="0.85"/>
<path d="M985.80 474.56V477.76M983.00 474.56H988.60M983.00 477.76H988.60" stroke="#1D0F0B" stroke-width="1.2" fill="none" stroke-opacity="0.85"/>
<polyline points="640.80,592.28 698.30,533.36 755.80,502.47 813.30,486.17 870.80,478.16 985.80,473.30" fill="none" stroke="#1B3B4C" stroke-width="1.2" stroke-linejoin="round"/>
<path d="M640.80 589.48V595.08M638.00 589.48H643.60M638.00 595.08H643.60" stroke="#1B3B4C" stroke-width="1.2" fill="none" stroke-opacity="0.85"/>
<path d="M698.30 531.76V534.96M695.50 531.76H701.10M695.50 534.96H701.10" stroke="#1B3B4C" stroke-width="1.2" fill="none" stroke-opacity="0.85"/>
<path d="M755.80 500.87V504.07M753.00 500.87H758.60M753.00 504.07H758.60" stroke="#1B3B4C" stroke-width="1.2" fill="none" stroke-opacity="0.85"/>
<path d="M813.30 484.57V487.77M810.50 484.57H816.10M810.50 487.77H816.10" stroke="#1B3B4C" stroke-width="1.2" fill="none" stroke-opacity="0.85"/>
<path d="M870.80 476.56V479.76M868.00 476.56H873.60M868.00 479.76H873.60" stroke="#1B3B4C" stroke-width="1.2" fill="none" stroke-opacity="0.85"/>
<polyline points="640.80,555.67 698.30,504.19 755.80,483.31 813.30,475.02 870.80,473.87 985.80,473.30" fill="none" stroke="#2F7B9D" stroke-width="1.2" stroke-linejoin="round"/>
<path d="M640.80 552.87V558.47M638.00 552.87H643.60M638.00 558.47H643.60" stroke="#2F7B9D" stroke-width="1.2" fill="none" stroke-opacity="0.85"/>
<path d="M698.30 502.59V505.79M695.50 502.59H701.10M695.50 505.79H701.10" stroke="#2F7B9D" stroke-width="1.2" fill="none" stroke-opacity="0.85"/>
<path d="M755.80 481.71V484.91M753.00 481.71H758.60M753.00 484.91H758.60" stroke="#2F7B9D" stroke-width="1.2" fill="none" stroke-opacity="0.85"/>
<path d="M813.30 473.42V476.62M810.50 473.42H816.10M810.50 476.62H816.10" stroke="#2F7B9D" stroke-width="1.2" fill="none" stroke-opacity="0.85"/>
<path d="M870.80 472.27V475.47M868.00 472.27H873.60M868.00 475.47H873.60" stroke="#2F7B9D" stroke-width="1.2" fill="none" stroke-opacity="0.85"/>
<polyline points="640.80,507.62 698.30,478.45 755.80,473.30 813.30,473.30 870.80,473.30 985.80,473.30" fill="none" stroke="#79A9E8" stroke-width="1.2" stroke-linejoin="round"/>
<path d="M640.80 504.82V510.42M638.00 504.82H643.60M638.00 510.42H643.60" stroke="#79A9E8" stroke-width="1.2" fill="none" stroke-opacity="0.85"/>
<path d="M698.30 476.85V480.05M695.50 476.85H701.10M695.50 480.05H701.10" stroke="#79A9E8" stroke-width="1.2" fill="none" stroke-opacity="0.85"/>
<rect x="623.70" y="464.60" width="378.80" height="266.40" fill="none" stroke="#474747" stroke-width="1.3"/>
<line x1="616.70" y1="473.50" x2="623.70" y2="473.50" stroke="#1a1a1a" stroke-width="1.05"/>
<text transform="translate(575.51,481.95) scale(0.9661,1.0000)" font-size="23" ><tspan>1.0</tspan></text>
<line x1="616.70" y1="530.50" x2="623.70" y2="530.50" stroke="#1a1a1a" stroke-width="1.05"/>
<text transform="translate(573.32,539.15) scale(1.0446,1.0000)" font-size="23" ><tspan>0.8</tspan></text>
<line x1="616.70" y1="587.50" x2="623.70" y2="587.50" stroke="#1a1a1a" stroke-width="1.05"/>
<text transform="translate(573.32,596.35) scale(1.0446,1.0000)" font-size="23" ><tspan>0.6</tspan></text>
<line x1="616.70" y1="644.50" x2="623.70" y2="644.50" stroke="#1a1a1a" stroke-width="1.05"/>
<text transform="translate(573.33,653.55) scale(1.0276,1.0000)" font-size="23" ><tspan>0.4</tspan></text>
<line x1="616.70" y1="702.50" x2="623.70" y2="702.50" stroke="#1a1a1a" stroke-width="1.05"/>
<text transform="translate(573.32,710.75) scale(1.0446,1.0000)" font-size="23" ><tspan>0.2</tspan></text>
<line x1="640.50" y1="731.00" x2="640.50" y2="738.00" stroke="#1a1a1a" stroke-width="1.05"/>
<text transform="translate(633.19,767.40) scale(1.1714,1.0000)" font-size="23" ><tspan>2</tspan></text>
<line x1="755.50" y1="731.00" x2="755.50" y2="738.00" stroke="#1a1a1a" stroke-width="1.05"/>
<text transform="translate(749.18,767.40) scale(1.0383,1.0000)" font-size="23" ><tspan>4</tspan></text>
<line x1="870.50" y1="731.00" x2="870.50" y2="738.00" stroke="#1a1a1a" stroke-width="1.05"/>
<text transform="translate(863.19,767.40) scale(1.1714,1.0000)" font-size="23" ><tspan>6</tspan></text>
<line x1="985.50" y1="731.00" x2="985.50" y2="738.00" stroke="#1a1a1a" stroke-width="1.05"/>
<text transform="translate(978.51,767.40) scale(1.1442,1.0000)" font-size="23" ><tspan>8</tspan></text>
<text transform="translate(715.45,802.50) scale(1.0816,1.0000)" font-size="27" ><tspan>Circuit depth, </tspan><tspan font-style="italic">L</tspan></text>
<text transform="translate(893.14,703.00) scale(1.0515,1.0000)" font-size="22.5" ><tspan font-style="italic">n</tspan><tspan> = 200</tspan></text>
<text transform="translate(553.90,742.01) rotate(-90) scale(1.0510,1.0000)" font-size="27" ><tspan>Success probability, </tspan><tspan font-family='"DejaVu Math TeX Gyre", "DejaVu Sans", serif' font-size="1.050em">𝒮</tspan></text>
<rect x="1047.6" y="64.70" width="28.40" height="89.63" fill="#D8877F"/>
<rect x="1047.6" y="154.03" width="28.40" height="89.63" fill="#8D4233"/>
<rect x="1047.6" y="243.36" width="28.40" height="89.63" fill="#4A1606"/>
<rect x="1047.6" y="332.69" width="28.40" height="89.63" fill="#1D0F0B"/>
<rect x="1047.6" y="422.01" width="28.40" height="89.63" fill="#1B3B4C"/>
<rect x="1047.6" y="511.34" width="28.40" height="89.63" fill="#2F7B9D"/>
<rect x="1047.6" y="600.67" width="28.40" height="89.63" fill="#79A9E8"/>
<rect x="1047.60" y="64.70" width="28.40" height="625.30" fill="none" stroke="#333" stroke-width="1.2"/>
<line x1="1040.60" y1="109.50" x2="1047.60" y2="109.50" stroke="#1a1a1a" stroke-width="1.05"/>
<text transform="translate(1015.98,117.46) scale(1.1238,1.0000)" font-size="22.5" ><tspan>8</tspan></text>
<line x1="1040.60" y1="198.50" x2="1047.60" y2="198.50" stroke="#1a1a1a" stroke-width="1.05"/>
<text transform="translate(1015.66,206.79) scale(1.1512,1.0000)" font-size="22.5" ><tspan>7</tspan></text>
<line x1="1040.60" y1="288.50" x2="1047.60" y2="288.50" stroke="#1a1a1a" stroke-width="1.05"/>
<text transform="translate(1015.98,296.12) scale(1.1238,1.0000)" font-size="22.5" ><tspan>6</tspan></text>
<line x1="1040.60" y1="377.50" x2="1047.60" y2="377.50" stroke="#1a1a1a" stroke-width="1.05"/>
<text transform="translate(1015.98,385.45) scale(1.1238,1.0000)" font-size="22.5" ><tspan>5</tspan></text>
<line x1="1040.60" y1="466.50" x2="1047.60" y2="466.50" stroke="#1a1a1a" stroke-width="1.05"/>
<text transform="translate(1016.59,474.78) scale(1.0261,1.0000)" font-size="22.5" ><tspan>4</tspan></text>
<line x1="1040.60" y1="556.50" x2="1047.60" y2="556.50" stroke="#1a1a1a" stroke-width="1.05"/>
<text transform="translate(1016.28,564.11) scale(1.0977,1.0000)" font-size="22.5" ><tspan>3</tspan></text>
<line x1="1040.60" y1="645.50" x2="1047.60" y2="645.50" stroke="#1a1a1a" stroke-width="1.05"/>
<text transform="translate(1015.98,653.44) scale(1.1238,1.0000)" font-size="22.5" ><tspan>2</tspan></text>
<text transform="translate(1090.50,245.59) rotate(90) scale(1.0515,1.0000)" font-size="27.5" ><tspan>Circuit dimension, </tspan><tspan font-style="italic">d</tspan></text>
<line x1="1255.60" y1="117.80" x2="1823.20" y2="117.80" stroke="#3a3a3a" stroke-width="1.8" stroke-dasharray="12.3 6.4"/>
<line x1="1280.60" y1="84.00" x2="1280.60" y2="714.30" stroke="#3a3a3a" stroke-width="1.8" stroke-dasharray="11.9 6.9"/>
<path d="M1287.9 643.4V686.2M1285.5 643.4H1290.3M1285.5 686.2H1290.3" stroke="#000" stroke-width="1.15" fill="none" stroke-opacity="0.71"/>
<path d="M1295.2 603.2V645.1M1292.8 603.2H1297.6M1292.8 645.1H1297.6" stroke="#000" stroke-width="1.15" fill="none" stroke-opacity="0.76"/>
<path d="M1303.3 557.4V600.9M1300.9 557.4H1305.7M1300.9 600.9H1305.7" stroke="#000" stroke-width="1.15" fill="none" stroke-opacity="0.86"/>
<rect x="1301.9" y="577.8" width="2.8" height="2.8" fill="#000" fill-opacity="0.86"/>
<path d="M1303.3 567.7V595.0M1300.9 567.7H1305.7M1300.9 595.0H1305.7" stroke="#000" stroke-width="1.15" fill="none" stroke-opacity="0.63"/>
<path d="M1310.6 530.0V563.3M1308.2 530.0H1313.0M1308.2 563.3H1313.0" stroke="#000" stroke-width="1.15" fill="none" stroke-opacity="0.72"/>
<path d="M1310.6 504.3V551.0M1308.2 504.3H1313.0M1308.2 551.0H1313.0" stroke="#000" stroke-width="1.15" fill="none" stroke-opacity="1.00"/>
<path d="M1311.5 510.0V563.0M1309.1 510.0H1313.9M1309.1 563.0H1313.9" stroke="#000" stroke-width="1.15" fill="none" stroke-opacity="0.94"/>
<path d="M1316.1 508.6V541.5M1313.7 508.6H1318.5M1313.7 541.5H1318.5" stroke="#000" stroke-width="1.15" fill="none" stroke-opacity="0.86"/>
<path d="M1318.9 486.0V521.6M1316.5 486.0H1321.3M1316.5 521.6H1321.3" stroke="#000" stroke-width="1.15" fill="none" stroke-opacity="0.86"/>
<path d="M1320.6 451.6V482.0M1318.2 451.6H1323.0M1318.2 482.0H1323.0" stroke="#000" stroke-width="1.15" fill="none" stroke-opacity="0.82"/>
<path d="M1320.6 466.0V505.2M1318.2 466.0H1323.0M1318.2 505.2H1323.0" stroke="#000" stroke-width="1.15" fill="none" stroke-opacity="0.88"/>
<rect x="1319.2" y="484.2" width="2.8" height="2.8" fill="#000" fill-opacity="0.88"/>
<path d="M1323.5 473.2V503.5M1321.1 473.2H1325.9M1321.1 503.5H1325.9" stroke="#000" stroke-width="1.15" fill="none" stroke-opacity="0.91"/>
<path d="M1327.0 444.7V482.7M1324.6 444.7H1329.4M1324.6 482.7H1329.4" stroke="#000" stroke-width="1.15" fill="none" stroke-opacity="0.73"/>
<rect x="1325.6" y="462.3" width="2.8" height="2.8" fill="#000" fill-opacity="0.73"/>
<path d="M1327.0 464.6V494.3M1324.6 464.6H1329.4M1324.6 494.3H1329.4" stroke="#000" stroke-width="1.15" fill="none" stroke-opacity="0.95"/>
<path d="M1331.6 423.0V469.8M1329.2 423.0H1334.0M1329.2 469.8H1334.0" stroke="#000" stroke-width="1.15" fill="none" stroke-opacity="0.89"/>
<path d="M1335.6 429.0V456.8M1333.2 429.0H1338.0M1333.2 456.8H1338.0" stroke="#000" stroke-width="1.15" fill="none" stroke-opacity="0.89"/>
<path d="M1316.1 420.4V448.1M1313.7 420.4H1318.5M1313.7 448.1H1318.5" stroke="#000" stroke-width="1.15" fill="none" stroke-opacity="0.77"/>
<path d="M1323.8 389.4V414.8M1321.4 389.4H1326.2M1321.4 414.8H1326.2" stroke="#000" stroke-width="1.15" fill="none" stroke-opacity="0.79"/>
<path d="M1330.7 423.0V455.0M1328.3 423.0H1333.1M1328.3 455.0H1333.1" stroke="#000" stroke-width="1.15" fill="none" stroke-opacity="0.95"/>
<rect x="1329.3" y="437.6" width="2.8" height="2.8" fill="#000" fill-opacity="0.95"/>
<path d="M1332.0 404.6V440.0M1329.6 404.6H1334.4M1329.6 440.0H1334.4" stroke="#000" stroke-width="1.15" fill="none" stroke-opacity="0.67"/>
<path d="M1332.0 418.0V458.4M1329.6 418.0H1334.4M1329.6 458.4H1334.4" stroke="#000" stroke-width="1.15" fill="none" stroke-opacity="0.99"/>
<path d="M1336.3 405.4V440.0M1333.9 405.4H1338.7M1333.9 440.0H1338.7" stroke="#000" stroke-width="1.15" fill="none" stroke-opacity="0.86"/>
<path d="M1336.3 415.0V456.8M1333.9 415.0H1338.7M1333.9 456.8H1338.7" stroke="#000" stroke-width="1.15" fill="none" stroke-opacity="0.81"/>
<path d="M1332.0 358.4V384.6M1329.6 358.4H1334.4M1329.6 384.6H1334.4" stroke="#000" stroke-width="1.15" fill="none" stroke-opacity="0.75"/>
<path d="M1340.3 379.4V416.0M1337.9 379.4H1342.7M1337.9 416.0H1342.7" stroke="#000" stroke-width="1.15" fill="none" stroke-opacity="0.84"/>
<path d="M1340.3 399.0V432.7M1337.9 399.0H1342.7M1337.9 432.7H1342.7" stroke="#000" stroke-width="1.15" fill="none" stroke-opacity="0.88"/>
<path d="M1342.2 397.4V424.7M1339.8 397.4H1344.6M1339.8 424.7H1344.6" stroke="#000" stroke-width="1.15" fill="none" stroke-opacity="0.95"/>
<path d="M1344.3 353.8V390.0M1341.9 353.8H1346.7M1341.9 390.0H1346.7" stroke="#000" stroke-width="1.15" fill="none" stroke-opacity="0.88"/>
<path d="M1344.3 375.0V424.7M1341.9 375.0H1346.7M1341.9 424.7H1346.7" stroke="#000" stroke-width="1.15" fill="none" stroke-opacity="0.95"/>
<path d="M1346.4 371.0V406.0M1344.0 371.0H1348.8M1344.0 406.0H1348.8" stroke="#000" stroke-width="1.15" fill="none" stroke-opacity="0.96"/>
<path d="M1344.3 334.8V354.0M1341.9 334.8H1346.7M1341.9 354.0H1346.7" stroke="#000" stroke-width="1.15" fill="none" stroke-opacity="0.89"/>
<path d="M1340.0 322.0V355.4M1337.6 322.0H1342.4M1337.6 355.4H1342.4" stroke="#000" stroke-width="1.15" fill="none" stroke-opacity="0.94"/>
<path d="M1349.6 363.7V395.0M1347.2 363.7H1352.0M1347.2 395.0H1352.0" stroke="#000" stroke-width="1.15" fill="none" stroke-opacity="0.73"/>
<rect x="1348.2" y="378.0" width="2.8" height="2.8" fill="#000" fill-opacity="0.73"/>
<path d="M1351.5 365.3V395.0M1349.1 365.3H1353.9M1349.1 395.0H1353.9" stroke="#000" stroke-width="1.15" fill="none" stroke-opacity="0.94"/>
<path d="M1352.4 340.4V369.3M1350.0 340.4H1354.8M1350.0 369.3H1354.8" stroke="#000" stroke-width="1.15" fill="none" stroke-opacity="0.65"/>
<path d="M1357.0 331.6V360.0M1354.6 331.6H1359.4M1354.6 360.0H1359.4" stroke="#000" stroke-width="1.15" fill="none" stroke-opacity="0.78"/>
<path d="M1359.0 335.0V365.0M1356.6 335.0H1361.4M1356.6 365.0H1361.4" stroke="#000" stroke-width="1.15" fill="none" stroke-opacity="0.73"/>
<path d="M1360.4 340.0V367.7M1358.0 340.0H1362.8M1358.0 367.7H1362.8" stroke="#000" stroke-width="1.15" fill="none" stroke-opacity="0.95"/>
<rect x="1359.0" y="352.5" width="2.8" height="2.8" fill="#000" fill-opacity="0.95"/>
<path d="M1369.2 325.0V338.8M1366.8 325.0H1371.6M1366.8 338.8H1371.6" stroke="#000" stroke-width="1.15" fill="none" stroke-opacity="0.85"/>
<rect x="1367.8" y="330.5" width="2.8" height="2.8" fill="#000" fill-opacity="0.85"/>
<path d="M1336.0 316.5V335.5M1333.6 316.5H1338.4M1333.6 335.5H1338.4" stroke="#000" stroke-width="1.15" fill="none" stroke-opacity="0.89"/>
<path d="M1339.9 329.7V345.0M1337.5 329.7H1342.3M1337.5 345.0H1342.3" stroke="#000" stroke-width="1.15" fill="none" stroke-opacity="0.95"/>
<path d="M1343.8 293.6V312.6M1341.4 293.6H1346.2M1341.4 312.6H1346.2" stroke="#000" stroke-width="1.15" fill="none" stroke-opacity="0.81"/>
<path d="M1349.0 300.2V322.5M1346.6 300.2H1351.4M1346.6 322.5H1351.4" stroke="#000" stroke-width="1.15" fill="none" stroke-opacity="0.74"/>
<rect x="1347.6" y="310.0" width="2.8" height="2.8" fill="#000" fill-opacity="0.74"/>
<path d="M1351.8 257.4V288.2M1349.4 257.4H1354.2M1349.4 288.2H1354.2" stroke="#000" stroke-width="1.15" fill="none" stroke-opacity="0.85"/>
<rect x="1350.4" y="271.4" width="2.8" height="2.8" fill="#000" fill-opacity="0.85"/>
<path d="M1357.2 309.6V345.0M1354.8 309.6H1359.6M1354.8 345.0H1359.6" stroke="#000" stroke-width="1.15" fill="none" stroke-opacity="0.70"/>
<path d="M1359.0 272.0V294.7M1356.6 272.0H1361.4M1356.6 294.7H1361.4" stroke="#000" stroke-width="1.15" fill="none" stroke-opacity="0.85"/>
<path d="M1359.8 240.4V267.4M1357.4 240.4H1362.2M1357.4 267.4H1362.2" stroke="#000" stroke-width="1.15" fill="none" stroke-opacity="0.64"/>
<path d="M1360.3 282.3V327.7M1357.9 282.3H1362.7M1357.9 327.7H1362.7" stroke="#000" stroke-width="1.15" fill="none" stroke-opacity="0.74"/>
<path d="M1363.9 301.4V334.2M1361.5 301.4H1366.3M1361.5 334.2H1366.3" stroke="#000" stroke-width="1.15" fill="none" stroke-opacity="0.96"/>
<path d="M1367.8 297.6V327.7M1365.4 297.6H1370.2M1365.4 327.7H1370.2" stroke="#000" stroke-width="1.15" fill="none" stroke-opacity="0.79"/>
<path d="M1369.1 247.3V268.0M1366.7 247.3H1371.5M1366.7 268.0H1371.5" stroke="#000" stroke-width="1.15" fill="none" stroke-opacity="0.86"/>
<path d="M1369.1 228.0V245.4M1366.7 228.0H1371.5M1366.7 245.4H1371.5" stroke="#000" stroke-width="1.15" fill="none" stroke-opacity="0.83"/>
<path d="M1369.1 301.8V330.0M1366.7 301.8H1371.5M1366.7 330.0H1371.5" stroke="#000" stroke-width="1.15" fill="none" stroke-opacity="0.98"/>
<path d="M1370.0 310.0V340.0M1367.6 310.0H1372.4M1367.6 340.0H1372.4" stroke="#000" stroke-width="1.15" fill="none" stroke-opacity="0.78"/>
<path d="M1372.3 268.0V305.0M1369.9 268.0H1374.7M1369.9 305.0H1374.7" stroke="#000" stroke-width="1.15" fill="none" stroke-opacity="0.71"/>
<path d="M1377.9 235.0V262.9M1375.5 235.0H1380.3M1375.5 262.9H1380.3" stroke="#000" stroke-width="1.15" fill="none" stroke-opacity="0.99"/>
<path d="M1377.9 262.9V305.7M1375.5 262.9H1380.3M1375.5 305.7H1380.3" stroke="#000" stroke-width="1.15" fill="none" stroke-opacity="0.83"/>
<rect x="1376.5" y="282.9" width="2.8" height="2.8" fill="#000" fill-opacity="0.83"/>
<path d="M1377.9 274.0V312.8M1375.5 274.0H1380.3M1375.5 312.8H1380.3" stroke="#000" stroke-width="1.15" fill="none" stroke-opacity="0.78"/>
<path d="M1380.1 228.0V242.0M1377.7 228.0H1382.5M1377.7 242.0H1382.5" stroke="#000" stroke-width="1.15" fill="none" stroke-opacity="0.63"/>
<path d="M1380.8 264.8V302.4M1378.4 264.8H1383.2M1378.4 302.4H1383.2" stroke="#000" stroke-width="1.15" fill="none" stroke-opacity="0.86"/>
<rect x="1379.4" y="282.2" width="2.8" height="2.8" fill="#000" fill-opacity="0.86"/>
<path d="M1381.5 270.0V298.0M1379.1 270.0H1383.9M1379.1 298.0H1383.9" stroke="#000" stroke-width="1.15" fill="none" stroke-opacity="0.86"/>
<path d="M1387.3 266.0V287.5M1384.9 266.0H1389.7M1384.9 287.5H1389.7" stroke="#000" stroke-width="1.15" fill="none" stroke-opacity="0.88"/>
<path d="M1389.2 235.0V261.0M1386.8 235.0H1391.6M1386.8 261.0H1391.6" stroke="#000" stroke-width="1.15" fill="none" stroke-opacity="0.89"/>
<path d="M1389.9 260.3V281.0M1387.5 260.3H1392.3M1387.5 281.0H1392.3" stroke="#000" stroke-width="1.15" fill="none" stroke-opacity="0.63"/>
<rect x="1388.5" y="269.2" width="2.8" height="2.8" fill="#000" fill-opacity="0.63"/>
<path d="M1391.8 248.0V273.3M1389.4 248.0H1394.2M1389.4 273.3H1394.2" stroke="#000" stroke-width="1.15" fill="none" stroke-opacity="0.88"/>
<path d="M1393.1 237.6V262.2M1390.7 237.6H1395.5M1390.7 262.2H1395.5" stroke="#000" stroke-width="1.15" fill="none" stroke-opacity="0.72"/>
<path d="M1398.0 244.0V262.9M1395.6 244.0H1400.4M1395.6 262.9H1400.4" stroke="#000" stroke-width="1.15" fill="none" stroke-opacity="0.85"/>
<path d="M1400.6 236.3V257.0M1398.2 236.3H1403.0M1398.2 257.0H1403.0" stroke="#000" stroke-width="1.15" fill="none" stroke-opacity="0.76"/>
<path d="M1364.9 221.5V232.2M1362.5 221.5H1367.3M1362.5 232.2H1367.3" stroke="#000" stroke-width="1.15" fill="none" stroke-opacity="0.76"/>
<path d="M1367.4 223.8V236.9M1365.0 223.8H1369.8M1365.0 236.9H1369.8" stroke="#000" stroke-width="1.15" fill="none" stroke-opacity="0.73"/>
<path d="M1369.4 230.6V245.8M1367.0 230.6H1371.8M1367.0 245.8H1371.8" stroke="#000" stroke-width="1.15" fill="none" stroke-opacity="0.91"/>
<rect x="1368.0" y="236.8" width="2.8" height="2.8" fill="#000" fill-opacity="0.91"/>
<path d="M1372.1 206.8V219.4M1369.7 206.8H1374.5M1369.7 219.4H1374.5" stroke="#000" stroke-width="1.15" fill="none" stroke-opacity="0.84"/>
<path d="M1376.0 208.2V219.6M1373.6 208.2H1378.4M1373.6 219.6H1378.4" stroke="#000" stroke-width="1.15" fill="none" stroke-opacity="0.74"/>
<path d="M1378.8 212.4V225.9M1376.4 212.4H1381.2M1376.4 225.9H1381.2" stroke="#000" stroke-width="1.15" fill="none" stroke-opacity="0.93"/>
<path d="M1380.2 223.8V242.1M1377.8 223.8H1382.6M1377.8 242.1H1382.6" stroke="#000" stroke-width="1.15" fill="none" stroke-opacity="0.69"/>
<path d="M1379.1 235.3V255.0M1376.7 235.3H1381.5M1376.7 255.0H1381.5" stroke="#000" stroke-width="1.15" fill="none" stroke-opacity="0.89"/>
<rect x="1377.7" y="243.8" width="2.8" height="2.8" fill="#000" fill-opacity="0.89"/>
<path d="M1380.2 194.2V204.3M1377.8 194.2H1382.6M1377.8 204.3H1382.6" stroke="#000" stroke-width="1.15" fill="none" stroke-opacity="0.74"/>
<path d="M1384.9 193.1V204.3M1382.5 193.1H1387.3M1382.5 204.3H1387.3" stroke="#000" stroke-width="1.15" fill="none" stroke-opacity="0.94"/>
<path d="M1384.9 178.4V185.1M1382.5 178.4H1387.3M1382.5 185.1H1387.3" stroke="#000" stroke-width="1.15" fill="none" stroke-opacity="0.95"/>
<path d="M1389.1 182.3V190.7M1386.7 182.3H1391.5M1386.7 190.7H1391.5" stroke="#000" stroke-width="1.15" fill="none" stroke-opacity="0.75"/>
<path d="M1389.6 194.2V207.2M1387.2 194.2H1392.0M1387.2 207.2H1392.0" stroke="#000" stroke-width="1.15" fill="none" stroke-opacity="0.96"/>
<path d="M1388.9 227.4V250.0M1386.5 227.4H1391.3M1386.5 250.0H1391.3" stroke="#000" stroke-width="1.15" fill="none" stroke-opacity="0.71"/>
<rect x="1387.5" y="237.3" width="2.8" height="2.8" fill="#000" fill-opacity="0.71"/>
<path d="M1392.7 202.3V218.5M1390.3 202.3H1395.1M1390.3 218.5H1395.1" stroke="#000" stroke-width="1.15" fill="none" stroke-opacity="0.82"/>
<path d="M1392.4 232.2V255.0M1390.0 232.2H1394.8M1390.0 255.0H1394.8" stroke="#000" stroke-width="1.15" fill="none" stroke-opacity="0.93"/>
<path d="M1392.4 169.4V175.3M1390.0 169.4H1394.8M1390.0 175.3H1394.8" stroke="#000" stroke-width="1.15" fill="none" stroke-opacity="0.69"/>
<path d="M1394.8 179.7V190.0M1392.4 179.7H1397.2M1392.4 190.0H1397.2" stroke="#000" stroke-width="1.15" fill="none" stroke-opacity="0.93"/>
<path d="M1398.0 170.8V179.2M1395.6 170.8H1400.4M1395.6 179.2H1400.4" stroke="#000" stroke-width="1.15" fill="none" stroke-opacity="0.93"/>
<path d="M1400.6 179.7V224.3M1398.2 179.7H1403.0M1398.2 224.3H1403.0" stroke="#000" stroke-width="1.15" fill="none" stroke-opacity="0.67"/>
<path d="M1400.6 236.4V255.0M1398.2 236.4H1403.0M1398.2 255.0H1403.0" stroke="#000" stroke-width="1.15" fill="none" stroke-opacity="0.92"/>
<path d="M1403.6 226.4V245.8M1401.2 226.4H1406.0M1401.2 245.8H1406.0" stroke="#000" stroke-width="1.15" fill="none" stroke-opacity="0.75"/>
<path d="M1405.3 168.1V176.5M1402.9 168.1H1407.7M1402.9 176.5H1407.7" stroke="#000" stroke-width="1.15" fill="none" stroke-opacity="0.78"/>
<path d="M1405.9 184.4V198.0M1403.5 184.4H1408.3M1403.5 198.0H1408.3" stroke="#000" stroke-width="1.15" fill="none" stroke-opacity="0.97"/>
<path d="M1406.4 217.0V239.0M1404.0 217.0H1408.8M1404.0 239.0H1408.8" stroke="#000" stroke-width="1.15" fill="none" stroke-opacity="0.62"/>
<path d="M1408.0 194.9V233.2M1405.6 194.9H1410.4M1405.6 233.2H1410.4" stroke="#000" stroke-width="1.15" fill="none" stroke-opacity="0.95"/>
<path d="M1409.0 203.3V240.0M1406.6 203.3H1411.4M1406.6 240.0H1411.4" stroke="#000" stroke-width="1.15" fill="none" stroke-opacity="0.79"/>
<path d="M1408.3 210.0V235.0M1405.9 210.0H1410.7M1405.9 235.0H1410.7" stroke="#000" stroke-width="1.15" fill="none" stroke-opacity="0.97"/>
<path d="M1413.0 165.0V176.0M1410.6 165.0H1415.4M1410.6 176.0H1415.4" stroke="#000" stroke-width="1.15" fill="none" stroke-opacity="0.90"/>
<path d="M1413.0 212.4V232.2M1410.6 212.4H1415.4M1410.6 232.2H1415.4" stroke="#000" stroke-width="1.15" fill="none" stroke-opacity="0.87"/>
<path d="M1416.9 203.3V222.5M1414.5 203.3H1419.3M1414.5 222.5H1419.3" stroke="#000" stroke-width="1.15" fill="none" stroke-opacity="0.73"/>
<path d="M1420.8 195.4V219.6M1418.4 195.4H1423.2M1418.4 219.6H1423.2" stroke="#000" stroke-width="1.15" fill="none" stroke-opacity="0.71"/>
<rect x="1419.4" y="206.1" width="2.8" height="2.8" fill="#000" fill-opacity="0.71"/>
<path d="M1421.1 166.0V179.2M1418.7 166.0H1423.5M1418.7 179.2H1423.5" stroke="#000" stroke-width="1.15" fill="none" stroke-opacity="0.84"/>
<path d="M1425.8 185.5V210.1M1423.4 185.5H1428.2M1423.4 210.1H1428.2" stroke="#000" stroke-width="1.15" fill="none" stroke-opacity="0.93"/>
<rect x="1424.4" y="196.4" width="2.8" height="2.8" fill="#000" fill-opacity="0.93"/>
<path d="M1427.9 166.0V199.6M1425.5 166.0H1430.3M1425.5 199.6H1430.3" stroke="#000" stroke-width="1.15" fill="none" stroke-opacity="0.96"/>
<path d="M1428.9 166.6V188.6M1426.5 166.6H1431.3M1426.5 188.6H1431.3" stroke="#000" stroke-width="1.15" fill="none" stroke-opacity="0.97"/>
<path d="M1432.1 185.5V201.2M1429.7 185.5H1434.5M1429.7 201.2H1434.5" stroke="#000" stroke-width="1.15" fill="none" stroke-opacity="0.96"/>
<path d="M1434.7 185.5V199.6M1432.3 185.5H1437.1M1432.3 199.6H1437.1" stroke="#000" stroke-width="1.15" fill="none" stroke-opacity="0.62"/>
<path d="M1437.3 174.4V189.1M1434.9 174.4H1439.7M1434.9 189.1H1439.7" stroke="#000" stroke-width="1.15" fill="none" stroke-opacity="0.69"/>
<path d="M1441.0 176.3V191.2M1438.6 176.3H1443.4M1438.6 191.2H1443.4" stroke="#000" stroke-width="1.15" fill="none" stroke-opacity="0.87"/>
<path d="M1443.6 164.0V180.2M1441.2 164.0H1446.0M1441.2 180.2H1446.0" stroke="#000" stroke-width="1.15" fill="none" stroke-opacity="0.78"/>
<path d="M1449.0 166.8V183.0M1446.6 166.8H1451.4M1446.6 183.0H1451.4" stroke="#000" stroke-width="1.15" fill="none" stroke-opacity="0.85"/>
<path d="M1457.1 158.0V172.9M1454.7 158.0H1459.5M1454.7 172.9H1459.5" stroke="#000" stroke-width="1.15" fill="none" stroke-opacity="0.72"/>
<path d="M1397.7 244.0V263.0M1395.3 244.0H1400.1M1395.3 263.0H1400.1" stroke="#000" stroke-width="1.15" fill="none" stroke-opacity="0.80"/>
<path d="M1403.8 226.5V245.5M1401.4 226.5H1406.2M1401.4 245.5H1406.2" stroke="#000" stroke-width="1.15" fill="none" stroke-opacity="0.75"/>
<path d="M1397.8 168.0V176.0M1395.4 168.0H1400.2M1395.4 176.0H1400.2" stroke="#000" stroke-width="1.15" fill="none" stroke-opacity="0.82"/>
<path d="M1400.4 160.8V166.5M1398.0 160.8H1402.8M1398.0 166.5H1402.8" stroke="#000" stroke-width="1.15" fill="none" stroke-opacity="0.69"/>
<path d="M1407.4 160.8V168.3M1405.0 160.8H1409.8M1405.0 168.3H1409.8" stroke="#000" stroke-width="1.15" fill="none" stroke-opacity="0.97"/>
<path d="M1408.9 152.8V158.6M1406.5 152.8H1411.3M1406.5 158.6H1411.3" stroke="#000" stroke-width="1.15" fill="none" stroke-opacity="0.93"/>
<rect x="1407.5" y="154.3" width="2.8" height="2.8" fill="#000" fill-opacity="0.93"/>
<path d="M1416.3 157.2V165.7M1413.9 157.2H1418.7M1413.9 165.7H1418.7" stroke="#000" stroke-width="1.15" fill="none" stroke-opacity="0.86"/>
<path d="M1417.9 146.5V151.7M1415.5 146.5H1420.3M1415.5 151.7H1420.3" stroke="#000" stroke-width="1.15" fill="none" stroke-opacity="0.64"/>
<path d="M1417.9 151.7V158.3M1415.5 151.7H1420.3M1415.5 158.3H1420.3" stroke="#000" stroke-width="1.15" fill="none" stroke-opacity="0.72"/>
<path d="M1426.3 154.3V163.9M1423.9 154.3H1428.7M1423.9 163.9H1428.7" stroke="#000" stroke-width="1.15" fill="none" stroke-opacity="0.78"/>
<path d="M1428.1 140.6V145.4M1425.7 140.6H1430.5M1425.7 145.4H1430.5" stroke="#000" stroke-width="1.15" fill="none" stroke-opacity="0.92"/>
<rect x="1426.7" y="141.6" width="2.8" height="2.8" fill="#000" fill-opacity="0.92"/>
<path d="M1428.5 147.6V155.0M1426.1 147.6H1430.9M1426.1 155.0H1430.9" stroke="#000" stroke-width="1.15" fill="none" stroke-opacity="0.64"/>
<rect x="1427.1" y="149.9" width="2.8" height="2.8" fill="#000" fill-opacity="0.64"/>
<path d="M1437.4 152.8V163.5M1435.0 152.8H1439.8M1435.0 163.5H1439.8" stroke="#000" stroke-width="1.15" fill="none" stroke-opacity="0.67"/>
<rect x="1436.0" y="156.8" width="2.8" height="2.8" fill="#000" fill-opacity="0.67"/>
<path d="M1438.1 135.4V139.1M1435.7 135.4H1440.5M1435.7 139.1H1440.5" stroke="#000" stroke-width="1.15" fill="none" stroke-opacity="0.99"/>
<path d="M1441.1 138.0V145.0M1438.7 138.0H1443.5M1438.7 145.0H1443.5" stroke="#000" stroke-width="1.15" fill="none" stroke-opacity="0.65"/>
<path d="M1441.1 143.0V152.0M1438.7 143.0H1443.5M1438.7 152.0H1443.5" stroke="#000" stroke-width="1.15" fill="none" stroke-opacity="0.74"/>
<path d="M1443.3 164.3V178.0M1440.9 164.3H1445.7M1440.9 178.0H1445.7" stroke="#000" stroke-width="1.15" fill="none" stroke-opacity="0.75"/>
<path d="M1449.3 131.3V134.3M1446.9 131.3H1451.7M1446.9 134.3H1451.7" stroke="#000" stroke-width="1.15" fill="none" stroke-opacity="0.84"/>
<path d="M1449.3 156.1V168.0M1446.9 156.1H1451.7M1446.9 168.0H1451.7" stroke="#000" stroke-width="1.15" fill="none" stroke-opacity="0.69"/>
<path d="M1455.9 132.4V137.2M1453.5 132.4H1458.3M1453.5 137.2H1458.3" stroke="#000" stroke-width="1.15" fill="none" stroke-opacity="0.67"/>
<path d="M1457.0 137.2V153.5M1454.6 137.2H1459.4M1454.6 153.5H1459.4" stroke="#000" stroke-width="1.15" fill="none" stroke-opacity="0.89"/>
<path d="M1455.6 146.5V162.4M1453.2 146.5H1458.0M1453.2 162.4H1458.0" stroke="#000" stroke-width="1.15" fill="none" stroke-opacity="0.65"/>
<path d="M1457.4 157.2V172.8M1455.0 157.2H1459.8M1455.0 172.8H1459.8" stroke="#000" stroke-width="1.15" fill="none" stroke-opacity="0.76"/>
<path d="M1461.5 127.4V129.4M1459.1 127.4H1463.9M1459.1 129.4H1463.9" stroke="#000" stroke-width="1.15" fill="none" stroke-opacity="0.92"/>
<path d="M1465.6 147.6V166.9M1463.2 147.6H1468.0M1463.2 166.9H1468.0" stroke="#000" stroke-width="1.15" fill="none" stroke-opacity="0.92"/>
<path d="M1466.5 150.0V162.0M1464.1 150.0H1468.9M1464.1 162.0H1468.9" stroke="#000" stroke-width="1.15" fill="none" stroke-opacity="0.78"/>
<path d="M1469.6 128.0V130.6M1467.2 128.0H1472.0M1467.2 130.6H1472.0" stroke="#000" stroke-width="1.15" fill="none" stroke-opacity="0.81"/>
<path d="M1474.8 124.6V139.4M1472.4 124.6H1477.2M1472.4 139.4H1477.2" stroke="#000" stroke-width="1.15" fill="none" stroke-opacity="0.78"/>
<path d="M1474.8 139.4V151.3M1472.4 139.4H1477.2M1472.4 151.3H1477.2" stroke="#000" stroke-width="1.15" fill="none" stroke-opacity="0.80"/>
<path d="M1476.3 142.4V157.2M1473.9 142.4H1478.7M1473.9 157.2H1478.7" stroke="#000" stroke-width="1.15" fill="none" stroke-opacity="0.82"/>
<path d="M1477.4 129.8V138.3M1475.0 129.8H1479.8M1475.0 138.3H1479.8" stroke="#000" stroke-width="1.15" fill="none" stroke-opacity="0.65"/>
<path d="M1486.0 124.5V126.1M1483.6 124.5H1488.4M1483.6 126.1H1488.4" stroke="#000" stroke-width="1.15" fill="none" stroke-opacity="0.78"/>
<path d="M1486.0 131.4V142.9M1483.6 131.4H1488.4M1483.6 142.9H1488.4" stroke="#000" stroke-width="1.15" fill="none" stroke-opacity="0.98"/>
<path d="M1484.7 142.9V152.1M1482.3 142.9H1487.1M1482.3 152.1H1487.1" stroke="#000" stroke-width="1.15" fill="none" stroke-opacity="0.96"/>
<path d="M1488.6 139.0V148.5M1486.2 139.0H1491.0M1486.2 148.5H1491.0" stroke="#000" stroke-width="1.15" fill="none" stroke-opacity="0.72"/>
<path d="M1490.3 134.4V144.2M1487.9 134.4H1492.7M1487.9 144.2H1492.7" stroke="#000" stroke-width="1.15" fill="none" stroke-opacity="0.67"/>
<path d="M1489.6 121.5V123.5M1487.2 121.5H1492.0M1487.2 123.5H1492.0" stroke="#000" stroke-width="1.15" fill="none" stroke-opacity="0.87"/>
<path d="M1491.9 124.5V127.5M1489.5 124.5H1494.3M1489.5 127.5H1494.3" stroke="#000" stroke-width="1.15" fill="none" stroke-opacity="0.92"/>
<path d="M1497.8 124.2V133.7M1495.4 124.2H1500.2M1495.4 133.7H1500.2" stroke="#000" stroke-width="1.15" fill="none" stroke-opacity="0.90"/>
<path d="M1497.8 136.7V145.6M1495.4 136.7H1500.2M1495.4 145.6H1500.2" stroke="#000" stroke-width="1.15" fill="none" stroke-opacity="0.66"/>
<path d="M1503.1 125.5V129.4M1500.7 125.5H1505.5M1500.7 129.4H1505.5" stroke="#000" stroke-width="1.15" fill="none" stroke-opacity="0.62"/>
<rect x="1501.7" y="126.0" width="2.8" height="2.8" fill="#000" fill-opacity="0.62"/>
<path d="M1503.1 132.4V140.3M1500.7 132.4H1505.5M1500.7 140.3H1505.5" stroke="#000" stroke-width="1.15" fill="none" stroke-opacity="0.91"/>
<rect x="1501.7" y="135.0" width="2.8" height="2.8" fill="#000" fill-opacity="0.91"/>
<path d="M1506.1 127.5V142.3M1503.7 127.5H1508.5M1503.7 142.3H1508.5" stroke="#000" stroke-width="1.15" fill="none" stroke-opacity="0.65"/>
<rect x="1504.7" y="133.5" width="2.8" height="2.8" fill="#000" fill-opacity="0.65"/>
<path d="M1505.4 120.6V122.9M1503.0 120.6H1507.8M1503.0 122.9H1507.8" stroke="#000" stroke-width="1.15" fill="none" stroke-opacity="0.95"/>
<path d="M1513.6 121.9V123.2M1511.2 121.9H1516.0M1511.2 123.2H1516.0" stroke="#000" stroke-width="1.15" fill="none" stroke-opacity="0.63"/>
<path d="M1513.9 130.4V137.0M1511.5 130.4H1516.3M1511.5 137.0H1516.3" stroke="#000" stroke-width="1.15" fill="none" stroke-opacity="0.67"/>
<path d="M1521.8 125.5V132.4M1519.4 125.5H1524.2M1519.4 132.4H1524.2" stroke="#000" stroke-width="1.15" fill="none" stroke-opacity="0.88"/>
<path d="M1523.5 128.4V134.4M1521.1 128.4H1525.9M1521.1 134.4H1525.9" stroke="#000" stroke-width="1.15" fill="none" stroke-opacity="0.98"/>
<path d="M1525.1 119.2V128.4M1522.7 119.2H1527.5M1522.7 128.4H1527.5" stroke="#000" stroke-width="1.15" fill="none" stroke-opacity="0.92"/>
<rect x="1523.7" y="122.4" width="2.8" height="2.8" fill="#000" fill-opacity="0.92"/>
<path d="M1531.7 127.5V133.1M1529.3 127.5H1534.1M1529.3 133.1H1534.1" stroke="#000" stroke-width="1.15" fill="none" stroke-opacity="0.91"/>
<path d="M1534.3 120.9V130.4M1531.9 120.9H1536.7M1531.9 130.4H1536.7" stroke="#000" stroke-width="1.15" fill="none" stroke-opacity="0.89"/>
<rect x="1532.9" y="124.2" width="2.8" height="2.8" fill="#000" fill-opacity="0.89"/>
<path d="M1538.6 119.2V120.2M1536.2 119.2H1541.0M1536.2 120.2H1541.0" stroke="#000" stroke-width="1.15" fill="none" stroke-opacity="0.90"/>
<path d="M1545.5 120.9V128.1M1543.1 120.9H1547.9M1543.1 128.1H1547.9" stroke="#000" stroke-width="1.15" fill="none" stroke-opacity="0.64"/>
<path d="M1554.7 118.6V127.1M1552.3 118.6H1557.1M1552.3 127.1H1557.1" stroke="#000" stroke-width="1.15" fill="none" stroke-opacity="0.83"/>
<path d="M1562.3 120.6V126.1M1559.9 120.6H1564.7M1559.9 126.1H1564.7" stroke="#000" stroke-width="1.15" fill="none" stroke-opacity="0.71"/>
<path d="M1574.8 119.2V123.2M1572.4 119.2H1577.2M1572.4 123.2H1577.2" stroke="#000" stroke-width="1.15" fill="none" stroke-opacity="0.71"/>
<path d="M1585.0 118.2V121.0M1582.6 118.2H1587.4M1582.6 121.0H1587.4" stroke="#000" stroke-width="1.15" fill="none" stroke-opacity="0.91"/>
<path d="M1597.0 118.0V120.5M1594.6 118.0H1599.4M1594.6 120.5H1599.4" stroke="#000" stroke-width="1.15" fill="none" stroke-opacity="0.76"/>
<path d="M1610.0 118.0V120.0M1607.6 118.0H1612.4M1607.6 120.0H1612.4" stroke="#000" stroke-width="1.15" fill="none" stroke-opacity="0.75"/>
<path d="M1625.0 118.0V119.5M1622.6 118.0H1627.4M1622.6 119.5H1627.4" stroke="#000" stroke-width="1.15" fill="none" stroke-opacity="0.65"/>
<path d="M1254.5 89.5H1823.2V714.3H1254.5Z" fill="none" stroke="#111" stroke-width="1.15"/>
<line x1="1255.60" y1="89.50" x2="1255.60" y2="85.90" stroke="#1a1a1a" stroke-width="1.1" />
<line x1="1264.96" y1="89.50" x2="1264.96" y2="85.90" stroke="#1a1a1a" stroke-width="1.1" />
<line x1="1273.21" y1="89.50" x2="1273.21" y2="85.90" stroke="#1a1a1a" stroke-width="1.1" />
<line x1="1280.60" y1="89.50" x2="1280.60" y2="82.90" stroke="#1a1a1a" stroke-width="1.1" />
<line x1="1329.19" y1="89.50" x2="1329.19" y2="85.90" stroke="#1a1a1a" stroke-width="1.1" />
<line x1="1357.61" y1="89.50" x2="1357.61" y2="85.90" stroke="#1a1a1a" stroke-width="1.1" />
<line x1="1377.77" y1="89.50" x2="1377.77" y2="85.90" stroke="#1a1a1a" stroke-width="1.1" />
<line x1="1393.41" y1="89.50" x2="1393.41" y2="85.90" stroke="#1a1a1a" stroke-width="1.1" />
<line x1="1406.19" y1="89.50" x2="1406.19" y2="85.90" stroke="#1a1a1a" stroke-width="1.1" />
<line x1="1417.00" y1="89.50" x2="1417.00" y2="85.90" stroke="#1a1a1a" stroke-width="1.1" />
<line x1="1426.36" y1="89.50" x2="1426.36" y2="85.90" stroke="#1a1a1a" stroke-width="1.1" />
<line x1="1434.61" y1="89.50" x2="1434.61" y2="85.90" stroke="#1a1a1a" stroke-width="1.1" />
<line x1="1442.00" y1="89.50" x2="1442.00" y2="82.90" stroke="#1a1a1a" stroke-width="1.1" />
<line x1="1490.59" y1="89.50" x2="1490.59" y2="85.90" stroke="#1a1a1a" stroke-width="1.1" />
<line x1="1519.01" y1="89.50" x2="1519.01" y2="85.90" stroke="#1a1a1a" stroke-width="1.1" />
<line x1="1539.17" y1="89.50" x2="1539.17" y2="85.90" stroke="#1a1a1a" stroke-width="1.1" />
<line x1="1554.81" y1="89.50" x2="1554.81" y2="85.90" stroke="#1a1a1a" stroke-width="1.1" />
<line x1="1567.59" y1="89.50" x2="1567.59" y2="85.90" stroke="#1a1a1a" stroke-width="1.1" />
<line x1="1578.40" y1="89.50" x2="1578.40" y2="85.90" stroke="#1a1a1a" stroke-width="1.1" />
<line x1="1587.76" y1="89.50" x2="1587.76" y2="85.90" stroke="#1a1a1a" stroke-width="1.1" />
<line x1="1596.01" y1="89.50" x2="1596.01" y2="85.90" stroke="#1a1a1a" stroke-width="1.1" />
<line x1="1603.40" y1="89.50" x2="1603.40" y2="82.90" stroke="#1a1a1a" stroke-width="1.1" />
<line x1="1651.99" y1="89.50" x2="1651.99" y2="85.90" stroke="#1a1a1a" stroke-width="1.1" />
<line x1="1680.41" y1="89.50" x2="1680.41" y2="85.90" stroke="#1a1a1a" stroke-width="1.1" />
<line x1="1700.57" y1="89.50" x2="1700.57" y2="85.90" stroke="#1a1a1a" stroke-width="1.1" />
<line x1="1716.21" y1="89.50" x2="1716.21" y2="85.90" stroke="#1a1a1a" stroke-width="1.1" />
<line x1="1728.99" y1="89.50" x2="1728.99" y2="85.90" stroke="#1a1a1a" stroke-width="1.1" />
<line x1="1739.80" y1="89.50" x2="1739.80" y2="85.90" stroke="#1a1a1a" stroke-width="1.1" />
<line x1="1749.16" y1="89.50" x2="1749.16" y2="85.90" stroke="#1a1a1a" stroke-width="1.1" />
<line x1="1757.41" y1="89.50" x2="1757.41" y2="85.90" stroke="#1a1a1a" stroke-width="1.1" />
<line x1="1764.80" y1="89.50" x2="1764.80" y2="82.90" stroke="#1a1a1a" stroke-width="1.1" />
<line x1="1813.39" y1="89.50" x2="1813.39" y2="85.90" stroke="#1a1a1a" stroke-width="1.1" />
<text transform="translate(1262.05,69.80) scale(0.9702,1.0000)" font-size="23.5" ><tspan>10</tspan></text>
<text transform="translate(1288.36,57.60) scale(1.1724,1.0000)" font-size="15" ><tspan>0</tspan></text>
<text transform="translate(1425.50,69.80) scale(0.9702,1.0000)" font-size="23.5" ><tspan>10</tspan></text>
<text transform="translate(1451.75,57.60) scale(0.6519,1.0000)" font-size="15" ><tspan>1</tspan></text>
<text transform="translate(1584.80,69.80) scale(0.9702,1.0000)" font-size="23.5" ><tspan>10</tspan></text>
<text transform="translate(1610.74,57.60) scale(1.2741,1.0000)" font-size="15" ><tspan>2</tspan></text>
<text transform="translate(1746.20,69.80) scale(0.9702,1.0000)" font-size="23.5" ><tspan>10</tspan></text>
<text transform="translate(1772.51,57.60) scale(1.1862,1.0000)" font-size="15" ><tspan>3</tspan></text>
<line x1="1248.00" y1="117.80" x2="1254.50" y2="117.80" stroke="#1a1a1a" stroke-width="1.1" />
<text transform="translate(1189.58,126.45) scale(1.0414,1.0000)" font-size="23" ><tspan>1.00</tspan></text>
<line x1="1248.00" y1="201.60" x2="1254.50" y2="201.60" stroke="#1a1a1a" stroke-width="1.1" />
<text transform="translate(1188.39,210.25) scale(1.0744,1.0000)" font-size="23" ><tspan>0.95</tspan></text>
<line x1="1248.00" y1="285.40" x2="1254.50" y2="285.40" stroke="#1a1a1a" stroke-width="1.1" />
<text transform="translate(1188.40,294.05) scale(1.0682,1.0000)" font-size="23" ><tspan>0.90</tspan></text>
<line x1="1248.00" y1="369.20" x2="1254.50" y2="369.20" stroke="#1a1a1a" stroke-width="1.1" />
<text transform="translate(1188.39,377.85) scale(1.0744,1.0000)" font-size="23" ><tspan>0.85</tspan></text>
<line x1="1248.00" y1="453.00" x2="1254.50" y2="453.00" stroke="#1a1a1a" stroke-width="1.1" />
<text transform="translate(1188.40,461.65) scale(1.0682,1.0000)" font-size="23" ><tspan>0.80</tspan></text>
<line x1="1248.00" y1="536.80" x2="1254.50" y2="536.80" stroke="#1a1a1a" stroke-width="1.1" />
<text transform="translate(1188.39,545.45) scale(1.0744,1.0000)" font-size="23" ><tspan>0.75</tspan></text>
<line x1="1248.00" y1="620.60" x2="1254.50" y2="620.60" stroke="#1a1a1a" stroke-width="1.1" />
<text transform="translate(1188.40,629.25) scale(1.0682,1.0000)" font-size="23" ><tspan>0.70</tspan></text>
<line x1="1248.00" y1="704.40" x2="1254.50" y2="704.40" stroke="#1a1a1a" stroke-width="1.1" />
<text transform="translate(1188.39,713.05) scale(1.0744,1.0000)" font-size="23" ><tspan>0.65</tspan></text>
<text transform="translate(1165.30,472.63) rotate(-90) scale(1.0337,1.0000)" font-size="27" ><tspan>Fidelity, </tspan><tspan stroke="#111" stroke-width="0.9" font-family='"DejaVu Math TeX Gyre", "DejaVu Sans", serif' font-size="1.100em">ℱ</tspan></text>
<text transform="translate(1504.96,777.80) scale(1.0791,1.0000)" font-size="27.5" ><tspan font-style="italic">nL/d</tspan></text>
<text transform="translate(1564.72,765.60) scale(1.0375,1.0000)" font-size="17" ><tspan>2</tspan></text>
<rect x="1527.5" y="249.8" width="284.5" height="359.09999999999997" fill="#fff" stroke="none"/>
<line x1="1527.50" y1="266.00" x2="1812.00" y2="266.00" stroke="#3a3a3a" stroke-width="1.8" stroke-dasharray="12.6 6.3"/>
<line x1="1674.50" y1="249.80" x2="1674.50" y2="608.90" stroke="#3a3a3a" stroke-width="1.8" stroke-dasharray="11.9 6.9" stroke-dashoffset="9.1"/>
<path d="M1674.5 310.0V318.3M1672.3 310.0H1676.7M1672.3 318.3H1676.7" stroke="#000" stroke-width="1.1" fill="none" stroke-opacity="0.76"/>
<path d="M1674.5 309.8V317.4M1672.3 309.8H1676.7M1672.3 317.4H1676.7" stroke="#000" stroke-width="1.1" fill="none" stroke-opacity="0.76"/>
<path d="M1674.5 309.9V316.9M1672.3 309.9H1676.7M1672.3 316.9H1676.7" stroke="#000" stroke-width="1.1" fill="none" stroke-opacity="0.66"/>
<path d="M1674.5 310.0V316.3M1672.3 310.0H1676.7M1672.3 316.3H1676.7" stroke="#000" stroke-width="1.1" fill="none" stroke-opacity="0.88"/>
<rect x="1673.3" y="312.0" width="2.4" height="2.4" fill="#000" fill-opacity="0.88"/>
<path d="M1674.5 310.3V315.9M1672.3 310.3H1676.7M1672.3 315.9H1676.7" stroke="#000" stroke-width="1.1" fill="none" stroke-opacity="0.71"/>
<rect x="1673.3" y="311.9" width="2.4" height="2.4" fill="#000" fill-opacity="0.71"/>
<path d="M1674.5 310.6V315.5M1672.3 310.6H1676.7M1672.3 315.5H1676.7" stroke="#000" stroke-width="1.1" fill="none" stroke-opacity="0.88"/>
<rect x="1673.3" y="311.9" width="2.4" height="2.4" fill="#000" fill-opacity="0.88"/>
<path d="M1674.5 310.9V315.1M1672.3 310.9H1676.7M1672.3 315.1H1676.7" stroke="#000" stroke-width="1.1" fill="none" stroke-opacity="0.94"/>
<path d="M1674.5 311.2V314.8M1672.3 311.2H1676.7M1672.3 314.8H1676.7" stroke="#000" stroke-width="1.1" fill="none" stroke-opacity="0.82"/>
<rect x="1673.3" y="311.8" width="2.4" height="2.4" fill="#000" fill-opacity="0.82"/>
<path d="M1650.4 377.6V386.0M1648.2 377.6H1652.6M1648.2 386.0H1652.6" stroke="#000" stroke-width="1.1" fill="none" stroke-opacity="0.61"/>
<rect x="1649.2" y="380.6" width="2.4" height="2.4" fill="#000" fill-opacity="0.61"/>
<path d="M1650.4 377.4V385.1M1648.2 377.4H1652.6M1648.2 385.1H1652.6" stroke="#000" stroke-width="1.1" fill="none" stroke-opacity="0.67"/>
<rect x="1649.2" y="380.1" width="2.4" height="2.4" fill="#000" fill-opacity="0.67"/>
<path d="M1650.4 377.5V384.5M1648.2 377.5H1652.6M1648.2 384.5H1652.6" stroke="#000" stroke-width="1.1" fill="none" stroke-opacity="0.61"/>
<rect x="1649.2" y="379.8" width="2.4" height="2.4" fill="#000" fill-opacity="0.61"/>
<path d="M1650.4 377.7V384.0M1648.2 377.7H1652.6M1648.2 384.0H1652.6" stroke="#000" stroke-width="1.1" fill="none" stroke-opacity="0.75"/>
<path d="M1650.4 378.0V383.6M1648.2 378.0H1652.6M1648.2 383.6H1652.6" stroke="#000" stroke-width="1.1" fill="none" stroke-opacity="0.82"/>
<rect x="1649.2" y="379.6" width="2.4" height="2.4" fill="#000" fill-opacity="0.82"/>
<path d="M1650.4 378.3V383.2M1648.2 378.3H1652.6M1648.2 383.2H1652.6" stroke="#000" stroke-width="1.1" fill="none" stroke-opacity="0.83"/>
<rect x="1649.2" y="379.5" width="2.4" height="2.4" fill="#000" fill-opacity="0.83"/>
<path d="M1650.4 378.5V382.8M1648.2 378.5H1652.6M1648.2 382.8H1652.6" stroke="#000" stroke-width="1.1" fill="none" stroke-opacity="0.70"/>
<path d="M1650.4 378.8V382.4M1648.2 378.8H1652.6M1648.2 382.4H1652.6" stroke="#000" stroke-width="1.1" fill="none" stroke-opacity="0.89"/>
<path d="M1633.3 427.8V436.1M1631.1 427.8H1635.5M1631.1 436.1H1635.5" stroke="#000" stroke-width="1.1" fill="none" stroke-opacity="0.68"/>
<rect x="1632.1" y="430.8" width="2.4" height="2.4" fill="#000" fill-opacity="0.68"/>
<path d="M1633.3 428.1V435.8M1631.1 428.1H1635.5M1631.1 435.8H1635.5" stroke="#000" stroke-width="1.1" fill="none" stroke-opacity="0.62"/>
<path d="M1633.3 428.5V435.5M1631.1 428.5H1635.5M1631.1 435.5H1635.5" stroke="#000" stroke-width="1.1" fill="none" stroke-opacity="0.90"/>
<rect x="1632.1" y="430.8" width="2.4" height="2.4" fill="#000" fill-opacity="0.90"/>
<path d="M1633.3 428.8V435.1M1631.1 428.8H1635.5M1631.1 435.1H1635.5" stroke="#000" stroke-width="1.1" fill="none" stroke-opacity="0.94"/>
<rect x="1632.1" y="430.8" width="2.4" height="2.4" fill="#000" fill-opacity="0.94"/>
<path d="M1633.3 429.2V434.8M1631.1 429.2H1635.5M1631.1 434.8H1635.5" stroke="#000" stroke-width="1.1" fill="none" stroke-opacity="0.67"/>
<path d="M1633.3 429.5V434.4M1631.1 429.5H1635.5M1631.1 434.4H1635.5" stroke="#000" stroke-width="1.1" fill="none" stroke-opacity="0.94"/>
<rect x="1632.1" y="430.8" width="2.4" height="2.4" fill="#000" fill-opacity="0.94"/>
<path d="M1633.3 429.8V434.1M1631.1 429.8H1635.5M1631.1 434.1H1635.5" stroke="#000" stroke-width="1.1" fill="none" stroke-opacity="0.63"/>
<path d="M1633.3 430.2V433.8M1631.1 430.2H1635.5M1631.1 433.8H1635.5" stroke="#000" stroke-width="1.1" fill="none" stroke-opacity="0.69"/>
<rect x="1632.1" y="430.8" width="2.4" height="2.4" fill="#000" fill-opacity="0.69"/>
<path d="M1620.1 462.6V470.9M1617.9 462.6H1622.3M1617.9 470.9H1622.3" stroke="#000" stroke-width="1.1" fill="none" stroke-opacity="0.72"/>
<path d="M1620.1 463.9V471.6M1617.9 463.9H1622.3M1617.9 471.6H1622.3" stroke="#000" stroke-width="1.1" fill="none" stroke-opacity="0.64"/>
<rect x="1618.9" y="466.6" width="2.4" height="2.4" fill="#000" fill-opacity="0.64"/>
<path d="M1620.1 464.8V471.7M1617.9 464.8H1622.3M1617.9 471.7H1622.3" stroke="#000" stroke-width="1.1" fill="none" stroke-opacity="0.64"/>
<rect x="1618.9" y="467.0" width="2.4" height="2.4" fill="#000" fill-opacity="0.64"/>
<path d="M1620.1 465.4V471.7M1617.9 465.4H1622.3M1617.9 471.7H1622.3" stroke="#000" stroke-width="1.1" fill="none" stroke-opacity="0.88"/>
<rect x="1618.9" y="467.4" width="2.4" height="2.4" fill="#000" fill-opacity="0.88"/>
<path d="M1620.1 465.9V471.5M1617.9 465.9H1622.3M1617.9 471.5H1622.3" stroke="#000" stroke-width="1.1" fill="none" stroke-opacity="0.80"/>
<rect x="1618.9" y="467.5" width="2.4" height="2.4" fill="#000" fill-opacity="0.80"/>
<path d="M1620.1 466.3V471.3M1617.9 466.3H1622.3M1617.9 471.3H1622.3" stroke="#000" stroke-width="1.1" fill="none" stroke-opacity="0.67"/>
<rect x="1618.9" y="467.6" width="2.4" height="2.4" fill="#000" fill-opacity="0.67"/>
<path d="M1620.1 466.8V471.0M1617.9 466.8H1622.3M1617.9 471.0H1622.3" stroke="#000" stroke-width="1.1" fill="none" stroke-opacity="0.83"/>
<rect x="1618.9" y="467.7" width="2.4" height="2.4" fill="#000" fill-opacity="0.83"/>
<path d="M1620.1 467.2V470.8M1617.9 467.2H1622.3M1617.9 470.8H1622.3" stroke="#000" stroke-width="1.1" fill="none" stroke-opacity="0.75"/>
<rect x="1618.9" y="467.8" width="2.4" height="2.4" fill="#000" fill-opacity="0.75"/>
<path d="M1609.2 487.3V495.7M1607.0 487.3H1611.4M1607.0 495.7H1611.4" stroke="#000" stroke-width="1.1" fill="none" stroke-opacity="0.69"/>
<path d="M1609.2 489.7V497.4M1607.0 489.7H1611.4M1607.0 497.4H1611.4" stroke="#000" stroke-width="1.1" fill="none" stroke-opacity="0.71"/>
<path d="M1609.2 490.9V497.9M1607.0 490.9H1611.4M1607.0 497.9H1611.4" stroke="#000" stroke-width="1.1" fill="none" stroke-opacity="0.74"/>
<path d="M1609.2 491.9V498.2M1607.0 491.9H1611.4M1607.0 498.2H1611.4" stroke="#000" stroke-width="1.1" fill="none" stroke-opacity="0.64"/>
<path d="M1609.2 492.5V498.1M1607.0 492.5H1611.4M1607.0 498.1H1611.4" stroke="#000" stroke-width="1.1" fill="none" stroke-opacity="0.69"/>
<path d="M1609.2 493.0V497.9M1607.0 493.0H1611.4M1607.0 497.9H1611.4" stroke="#000" stroke-width="1.1" fill="none" stroke-opacity="0.70"/>
<rect x="1608.0" y="494.3" width="2.4" height="2.4" fill="#000" fill-opacity="0.70"/>
<path d="M1609.2 493.5V497.8M1607.0 493.5H1611.4M1607.0 497.8H1611.4" stroke="#000" stroke-width="1.1" fill="none" stroke-opacity="0.63"/>
<path d="M1609.2 494.1V497.6M1607.0 494.1H1611.4M1607.0 497.6H1611.4" stroke="#000" stroke-width="1.1" fill="none" stroke-opacity="0.81"/>
<rect x="1608.0" y="494.6" width="2.4" height="2.4" fill="#000" fill-opacity="0.81"/>
<path d="M1600.1 503.8V512.2M1597.9 503.8H1602.3M1597.9 512.2H1602.3" stroke="#000" stroke-width="1.1" fill="none" stroke-opacity="0.76"/>
<path d="M1600.1 507.9V515.5M1597.9 507.9H1602.3M1597.9 515.5H1602.3" stroke="#000" stroke-width="1.1" fill="none" stroke-opacity="0.80"/>
<rect x="1598.9" y="510.5" width="2.4" height="2.4" fill="#000" fill-opacity="0.80"/>
<path d="M1600.1 509.8V516.8M1597.9 509.8H1602.3M1597.9 516.8H1602.3" stroke="#000" stroke-width="1.1" fill="none" stroke-opacity="0.65"/>
<path d="M1600.1 511.3V517.6M1597.9 511.3H1602.3M1597.9 517.6H1602.3" stroke="#000" stroke-width="1.1" fill="none" stroke-opacity="0.69"/>
<rect x="1598.9" y="513.2" width="2.4" height="2.4" fill="#000" fill-opacity="0.69"/>
<path d="M1600.1 512.1V517.7M1597.9 512.1H1602.3M1597.9 517.7H1602.3" stroke="#000" stroke-width="1.1" fill="none" stroke-opacity="0.86"/>
<rect x="1598.9" y="513.7" width="2.4" height="2.4" fill="#000" fill-opacity="0.86"/>
<path d="M1600.1 512.8V517.7M1597.9 512.8H1602.3M1597.9 517.7H1602.3" stroke="#000" stroke-width="1.1" fill="none" stroke-opacity="0.93"/>
<path d="M1600.1 513.5V517.7M1597.9 513.5H1602.3M1597.9 517.7H1602.3" stroke="#000" stroke-width="1.1" fill="none" stroke-opacity="0.75"/>
<rect x="1598.9" y="514.4" width="2.4" height="2.4" fill="#000" fill-opacity="0.75"/>
<path d="M1600.1 514.2V517.7M1597.9 514.2H1602.3M1597.9 517.7H1602.3" stroke="#000" stroke-width="1.1" fill="none" stroke-opacity="0.61"/>
<path d="M1592.1 517.1V525.5M1589.9 517.1H1594.3M1589.9 525.5H1594.3" stroke="#000" stroke-width="1.1" fill="none" stroke-opacity="0.85"/>
<rect x="1590.9" y="520.1" width="2.4" height="2.4" fill="#000" fill-opacity="0.85"/>
<path d="M1592.1 521.8V529.5M1589.9 521.8H1594.3M1589.9 529.5H1594.3" stroke="#000" stroke-width="1.1" fill="none" stroke-opacity="0.89"/>
<path d="M1592.1 524.1V531.1M1589.9 524.1H1594.3M1589.9 531.1H1594.3" stroke="#000" stroke-width="1.1" fill="none" stroke-opacity="0.66"/>
<rect x="1590.9" y="526.4" width="2.4" height="2.4" fill="#000" fill-opacity="0.66"/>
<path d="M1592.1 525.7V532.0M1589.9 525.7H1594.3M1589.9 532.0H1594.3" stroke="#000" stroke-width="1.1" fill="none" stroke-opacity="0.68"/>
<path d="M1592.1 526.7V532.3M1589.9 526.7H1594.3M1589.9 532.3H1594.3" stroke="#000" stroke-width="1.1" fill="none" stroke-opacity="0.82"/>
<rect x="1590.9" y="528.3" width="2.4" height="2.4" fill="#000" fill-opacity="0.82"/>
<path d="M1592.1 527.4V532.3M1589.9 527.4H1594.3M1589.9 532.3H1594.3" stroke="#000" stroke-width="1.1" fill="none" stroke-opacity="0.92"/>
<rect x="1590.9" y="528.7" width="2.4" height="2.4" fill="#000" fill-opacity="0.92"/>
<path d="M1592.1 528.1V532.4M1589.9 528.1H1594.3M1589.9 532.4H1594.3" stroke="#000" stroke-width="1.1" fill="none" stroke-opacity="0.61"/>
<rect x="1590.9" y="529.1" width="2.4" height="2.4" fill="#000" fill-opacity="0.61"/>
<path d="M1592.1 528.9V532.5M1589.9 528.9H1594.3M1589.9 532.5H1594.3" stroke="#000" stroke-width="1.1" fill="none" stroke-opacity="0.76"/>
<rect x="1590.9" y="529.5" width="2.4" height="2.4" fill="#000" fill-opacity="0.76"/>
<path d="M1585.1 527.3V535.6M1582.9 527.3H1587.3M1582.9 535.6H1587.3" stroke="#000" stroke-width="1.1" fill="none" stroke-opacity="0.66"/>
<rect x="1583.9" y="530.3" width="2.4" height="2.4" fill="#000" fill-opacity="0.66"/>
<path d="M1585.1 532.4V540.1M1582.9 532.4H1587.3M1582.9 540.1H1587.3" stroke="#000" stroke-width="1.1" fill="none" stroke-opacity="0.80"/>
<rect x="1583.9" y="535.1" width="2.4" height="2.4" fill="#000" fill-opacity="0.80"/>
<path d="M1585.1 534.9V541.9M1582.9 534.9H1587.3M1582.9 541.9H1587.3" stroke="#000" stroke-width="1.1" fill="none" stroke-opacity="0.73"/>
<path d="M1585.1 536.7V543.0M1582.9 536.7H1587.3M1582.9 543.0H1587.3" stroke="#000" stroke-width="1.1" fill="none" stroke-opacity="0.83"/>
<path d="M1585.1 537.7V543.3M1582.9 537.7H1587.3M1582.9 543.3H1587.3" stroke="#000" stroke-width="1.1" fill="none" stroke-opacity="0.65"/>
<rect x="1583.9" y="539.3" width="2.4" height="2.4" fill="#000" fill-opacity="0.65"/>
<path d="M1585.1 538.5V543.4M1582.9 538.5H1587.3M1582.9 543.4H1587.3" stroke="#000" stroke-width="1.1" fill="none" stroke-opacity="0.61"/>
<path d="M1585.1 539.2V543.5M1582.9 539.2H1587.3M1582.9 543.5H1587.3" stroke="#000" stroke-width="1.1" fill="none" stroke-opacity="0.94"/>
<rect x="1583.9" y="540.2" width="2.4" height="2.4" fill="#000" fill-opacity="0.94"/>
<path d="M1585.1 540.0V543.6M1582.9 540.0H1587.3M1582.9 543.6H1587.3" stroke="#000" stroke-width="1.1" fill="none" stroke-opacity="0.82"/>
<rect x="1583.9" y="540.6" width="2.4" height="2.4" fill="#000" fill-opacity="0.82"/>
<path d="M1578.9 536.8V545.2M1576.7 536.8H1581.1M1576.7 545.2H1581.1" stroke="#000" stroke-width="1.1" fill="none" stroke-opacity="0.86"/>
<rect x="1577.7" y="539.8" width="2.4" height="2.4" fill="#000" fill-opacity="0.86"/>
<path d="M1578.9 542.0V549.7M1576.7 542.0H1581.1M1576.7 549.7H1581.1" stroke="#000" stroke-width="1.1" fill="none" stroke-opacity="0.95"/>
<rect x="1577.7" y="544.6" width="2.4" height="2.4" fill="#000" fill-opacity="0.95"/>
<path d="M1578.9 544.5V551.5M1576.7 544.5H1581.1M1576.7 551.5H1581.1" stroke="#000" stroke-width="1.1" fill="none" stroke-opacity="0.79"/>
<path d="M1578.9 546.2V552.5M1576.7 546.2H1581.1M1576.7 552.5H1581.1" stroke="#000" stroke-width="1.1" fill="none" stroke-opacity="0.86"/>
<path d="M1578.9 547.2V552.9M1576.7 547.2H1581.1M1576.7 552.9H1581.1" stroke="#000" stroke-width="1.1" fill="none" stroke-opacity="0.92"/>
<rect x="1577.7" y="548.8" width="2.4" height="2.4" fill="#000" fill-opacity="0.92"/>
<path d="M1578.9 548.0V553.0M1576.7 548.0H1581.1M1576.7 553.0H1581.1" stroke="#000" stroke-width="1.1" fill="none" stroke-opacity="0.84"/>
<path d="M1578.9 548.8V553.1M1576.7 548.8H1581.1M1576.7 553.1H1581.1" stroke="#000" stroke-width="1.1" fill="none" stroke-opacity="0.75"/>
<path d="M1578.9 549.6V553.2M1576.7 549.6H1581.1M1576.7 553.2H1581.1" stroke="#000" stroke-width="1.1" fill="none" stroke-opacity="0.80"/>
<path d="M1573.2 543.6V552.0M1571.0 543.6H1575.4M1571.0 552.0H1575.4" stroke="#000" stroke-width="1.1" fill="none" stroke-opacity="0.80"/>
<rect x="1572.0" y="546.6" width="2.4" height="2.4" fill="#000" fill-opacity="0.80"/>
<path d="M1573.2 549.1V556.8M1571.0 549.1H1575.4M1571.0 556.8H1575.4" stroke="#000" stroke-width="1.1" fill="none" stroke-opacity="0.82"/>
<path d="M1573.2 551.8V558.8M1571.0 551.8H1575.4M1571.0 558.8H1575.4" stroke="#000" stroke-width="1.1" fill="none" stroke-opacity="0.85"/>
<rect x="1572.0" y="554.1" width="2.4" height="2.4" fill="#000" fill-opacity="0.85"/>
<path d="M1573.2 553.6V560.0M1571.0 553.6H1575.4M1571.0 560.0H1575.4" stroke="#000" stroke-width="1.1" fill="none" stroke-opacity="0.86"/>
<path d="M1573.2 554.7V560.3M1571.0 554.7H1575.4M1571.0 560.3H1575.4" stroke="#000" stroke-width="1.1" fill="none" stroke-opacity="0.89"/>
<rect x="1572.0" y="556.3" width="2.4" height="2.4" fill="#000" fill-opacity="0.89"/>
<path d="M1573.2 555.5V560.5M1571.0 555.5H1575.4M1571.0 560.5H1575.4" stroke="#000" stroke-width="1.1" fill="none" stroke-opacity="0.86"/>
<rect x="1572.0" y="556.8" width="2.4" height="2.4" fill="#000" fill-opacity="0.86"/>
<path d="M1573.2 556.3V560.6M1571.0 556.3H1575.4M1571.0 560.6H1575.4" stroke="#000" stroke-width="1.1" fill="none" stroke-opacity="0.81"/>
<rect x="1572.0" y="557.2" width="2.4" height="2.4" fill="#000" fill-opacity="0.81"/>
<path d="M1573.2 557.1V560.7M1571.0 557.1H1575.4M1571.0 560.7H1575.4" stroke="#000" stroke-width="1.1" fill="none" stroke-opacity="0.68"/>
<path d="M1568.0 548.8V557.1M1565.8 548.8H1570.2M1565.8 557.1H1570.2" stroke="#000" stroke-width="1.1" fill="none" stroke-opacity="0.82"/>
<path d="M1568.0 554.8V562.5M1565.8 554.8H1570.2M1565.8 562.5H1570.2" stroke="#000" stroke-width="1.1" fill="none" stroke-opacity="0.60"/>
<rect x="1566.8" y="557.5" width="2.4" height="2.4" fill="#000" fill-opacity="0.60"/>
<path d="M1568.0 557.8V564.7M1565.8 557.8H1570.2M1565.8 564.7H1570.2" stroke="#000" stroke-width="1.1" fill="none" stroke-opacity="0.84"/>
<rect x="1566.8" y="560.0" width="2.4" height="2.4" fill="#000" fill-opacity="0.84"/>
<path d="M1568.0 559.8V566.1M1565.8 559.8H1570.2M1565.8 566.1H1570.2" stroke="#000" stroke-width="1.1" fill="none" stroke-opacity="0.66"/>
<path d="M1568.0 560.9V566.5M1565.8 560.9H1570.2M1565.8 566.5H1570.2" stroke="#000" stroke-width="1.1" fill="none" stroke-opacity="0.75"/>
<path d="M1568.0 561.8V566.7M1565.8 561.8H1570.2M1565.8 566.7H1570.2" stroke="#000" stroke-width="1.1" fill="none" stroke-opacity="0.83"/>
<rect x="1566.8" y="563.0" width="2.4" height="2.4" fill="#000" fill-opacity="0.83"/>
<path d="M1568.0 562.6V566.9M1565.8 562.6H1570.2M1565.8 566.9H1570.2" stroke="#000" stroke-width="1.1" fill="none" stroke-opacity="0.75"/>
<path d="M1568.0 563.5V567.1M1565.8 563.5H1570.2M1565.8 567.1H1570.2" stroke="#000" stroke-width="1.1" fill="none" stroke-opacity="0.91"/>
<rect x="1566.8" y="564.1" width="2.4" height="2.4" fill="#000" fill-opacity="0.91"/>
<path d="M1563.3 553.6V561.9M1561.1 553.6H1565.5M1561.1 561.9H1565.5" stroke="#000" stroke-width="1.1" fill="none" stroke-opacity="0.80"/>
<rect x="1562.1" y="556.5" width="2.4" height="2.4" fill="#000" fill-opacity="0.80"/>
<path d="M1563.3 560.2V567.9M1561.1 560.2H1565.5M1561.1 567.9H1565.5" stroke="#000" stroke-width="1.1" fill="none" stroke-opacity="0.65"/>
<rect x="1562.1" y="562.8" width="2.4" height="2.4" fill="#000" fill-opacity="0.65"/>
<path d="M1563.3 563.3V570.3M1561.1 563.3H1565.5M1561.1 570.3H1565.5" stroke="#000" stroke-width="1.1" fill="none" stroke-opacity="0.89"/>
<path d="M1563.3 565.5V571.8M1561.1 565.5H1565.5M1561.1 571.8H1565.5" stroke="#000" stroke-width="1.1" fill="none" stroke-opacity="0.93"/>
<rect x="1562.1" y="567.5" width="2.4" height="2.4" fill="#000" fill-opacity="0.93"/>
<path d="M1563.3 566.7V572.3M1561.1 566.7H1565.5M1561.1 572.3H1565.5" stroke="#000" stroke-width="1.1" fill="none" stroke-opacity="0.66"/>
<rect x="1562.1" y="568.3" width="2.4" height="2.4" fill="#000" fill-opacity="0.66"/>
<path d="M1563.3 567.6V572.6M1561.1 567.6H1565.5M1561.1 572.6H1565.5" stroke="#000" stroke-width="1.1" fill="none" stroke-opacity="0.70"/>
<rect x="1562.1" y="568.9" width="2.4" height="2.4" fill="#000" fill-opacity="0.70"/>
<path d="M1563.3 568.6V572.8M1561.1 568.6H1565.5M1561.1 572.8H1565.5" stroke="#000" stroke-width="1.1" fill="none" stroke-opacity="0.74"/>
<path d="M1563.3 569.5V573.1M1561.1 569.5H1565.5M1561.1 573.1H1565.5" stroke="#000" stroke-width="1.1" fill="none" stroke-opacity="0.71"/>
<path d="M1558.9 557.5V565.9M1556.7 557.5H1561.1M1556.7 565.9H1561.1" stroke="#000" stroke-width="1.1" fill="none" stroke-opacity="0.76"/>
<rect x="1557.7" y="560.5" width="2.4" height="2.4" fill="#000" fill-opacity="0.76"/>
<path d="M1558.9 564.3V572.0M1556.7 564.3H1561.1M1556.7 572.0H1561.1" stroke="#000" stroke-width="1.1" fill="none" stroke-opacity="0.61"/>
<rect x="1557.7" y="567.0" width="2.4" height="2.4" fill="#000" fill-opacity="0.61"/>
<path d="M1558.9 567.6V574.6M1556.7 567.6H1561.1M1556.7 574.6H1561.1" stroke="#000" stroke-width="1.1" fill="none" stroke-opacity="0.85"/>
<path d="M1558.9 569.8V576.1M1556.7 569.8H1561.1M1556.7 576.1H1561.1" stroke="#000" stroke-width="1.1" fill="none" stroke-opacity="0.88"/>
<rect x="1557.7" y="571.8" width="2.4" height="2.4" fill="#000" fill-opacity="0.88"/>
<path d="M1558.9 571.0V576.7M1556.7 571.0H1561.1M1556.7 576.7H1561.1" stroke="#000" stroke-width="1.1" fill="none" stroke-opacity="0.65"/>
<rect x="1557.7" y="572.7" width="2.4" height="2.4" fill="#000" fill-opacity="0.65"/>
<path d="M1558.9 572.0V576.9M1556.7 572.0H1561.1M1556.7 576.9H1561.1" stroke="#000" stroke-width="1.1" fill="none" stroke-opacity="0.61"/>
<path d="M1558.9 572.9V577.2M1556.7 572.9H1561.1M1556.7 577.2H1561.1" stroke="#000" stroke-width="1.1" fill="none" stroke-opacity="0.65"/>
<rect x="1557.7" y="573.8" width="2.4" height="2.4" fill="#000" fill-opacity="0.65"/>
<path d="M1558.9 573.9V577.4M1556.7 573.9H1561.1M1556.7 577.4H1561.1" stroke="#000" stroke-width="1.1" fill="none" stroke-opacity="0.82"/>
<rect x="1557.7" y="574.4" width="2.4" height="2.4" fill="#000" fill-opacity="0.82"/>
<path d="M1554.8 561.5V569.9M1552.6 561.5H1557.0M1552.6 569.9H1557.0" stroke="#000" stroke-width="1.1" fill="none" stroke-opacity="0.82"/>
<path d="M1554.8 568.5V576.2M1552.6 568.5H1557.0M1552.6 576.2H1557.0" stroke="#000" stroke-width="1.1" fill="none" stroke-opacity="0.94"/>
<rect x="1553.6" y="571.1" width="2.4" height="2.4" fill="#000" fill-opacity="0.94"/>
<path d="M1554.8 571.8V578.8M1552.6 571.8H1557.0M1552.6 578.8H1557.0" stroke="#000" stroke-width="1.1" fill="none" stroke-opacity="0.77"/>
<rect x="1553.6" y="574.1" width="2.4" height="2.4" fill="#000" fill-opacity="0.77"/>
<path d="M1554.8 574.1V580.4M1552.6 574.1H1557.0M1552.6 580.4H1557.0" stroke="#000" stroke-width="1.1" fill="none" stroke-opacity="0.60"/>
<rect x="1553.6" y="576.1" width="2.4" height="2.4" fill="#000" fill-opacity="0.60"/>
<path d="M1554.8 575.4V581.0M1552.6 575.4H1557.0M1552.6 581.0H1557.0" stroke="#000" stroke-width="1.1" fill="none" stroke-opacity="0.85"/>
<rect x="1553.6" y="577.0" width="2.4" height="2.4" fill="#000" fill-opacity="0.85"/>
<path d="M1554.8 576.3V581.3M1552.6 576.3H1557.0M1552.6 581.3H1557.0" stroke="#000" stroke-width="1.1" fill="none" stroke-opacity="0.70"/>
<rect x="1553.6" y="577.6" width="2.4" height="2.4" fill="#000" fill-opacity="0.70"/>
<path d="M1554.8 577.3V581.5M1552.6 577.3H1557.0M1552.6 581.5H1557.0" stroke="#000" stroke-width="1.1" fill="none" stroke-opacity="0.84"/>
<path d="M1554.8 578.2V581.8M1552.6 578.2H1557.0M1552.6 581.8H1557.0" stroke="#000" stroke-width="1.1" fill="none" stroke-opacity="0.86"/>
<rect x="1553.6" y="578.8" width="2.4" height="2.4" fill="#000" fill-opacity="0.86"/>
<path d="M1551.0 565.1V573.5M1548.8 565.1H1553.2M1548.8 573.5H1553.2" stroke="#000" stroke-width="1.1" fill="none" stroke-opacity="0.88"/>
<rect x="1549.8" y="568.1" width="2.4" height="2.4" fill="#000" fill-opacity="0.88"/>
<path d="M1551.0 572.1V579.8M1548.8 572.1H1553.2M1548.8 579.8H1553.2" stroke="#000" stroke-width="1.1" fill="none" stroke-opacity="0.93"/>
<rect x="1549.8" y="574.7" width="2.4" height="2.4" fill="#000" fill-opacity="0.93"/>
<path d="M1551.0 575.4V582.4M1548.8 575.4H1553.2M1548.8 582.4H1553.2" stroke="#000" stroke-width="1.1" fill="none" stroke-opacity="0.76"/>
<path d="M1551.0 577.7V584.0M1548.8 577.7H1553.2M1548.8 584.0H1553.2" stroke="#000" stroke-width="1.1" fill="none" stroke-opacity="0.73"/>
<path d="M1551.0 579.0V584.6M1548.8 579.0H1553.2M1548.8 584.6H1553.2" stroke="#000" stroke-width="1.1" fill="none" stroke-opacity="0.88"/>
<path d="M1551.0 579.9V584.9M1548.8 579.9H1553.2M1548.8 584.9H1553.2" stroke="#000" stroke-width="1.1" fill="none" stroke-opacity="0.83"/>
<rect x="1549.8" y="581.2" width="2.4" height="2.4" fill="#000" fill-opacity="0.83"/>
<path d="M1551.0 580.9V585.1M1548.8 580.9H1553.2M1548.8 585.1H1553.2" stroke="#000" stroke-width="1.1" fill="none" stroke-opacity="0.85"/>
<path d="M1551.0 581.8V585.4M1548.8 581.8H1553.2M1548.8 585.4H1553.2" stroke="#000" stroke-width="1.1" fill="none" stroke-opacity="0.85"/>
<rect x="1549.8" y="582.4" width="2.4" height="2.4" fill="#000" fill-opacity="0.85"/>
<path d="M1547.4 567.9V576.2M1545.2 567.9H1549.6M1545.2 576.2H1549.6" stroke="#000" stroke-width="1.1" fill="none" stroke-opacity="0.91"/>
<path d="M1547.4 575.1V582.7M1545.2 575.1H1549.6M1545.2 582.7H1549.6" stroke="#000" stroke-width="1.1" fill="none" stroke-opacity="0.79"/>
<path d="M1547.4 578.5V585.5M1545.2 578.5H1549.6M1545.2 585.5H1549.6" stroke="#000" stroke-width="1.1" fill="none" stroke-opacity="0.92"/>
<path d="M1547.4 580.8V587.1M1545.2 580.8H1549.6M1545.2 587.1H1549.6" stroke="#000" stroke-width="1.1" fill="none" stroke-opacity="0.63"/>
<rect x="1546.2" y="582.8" width="2.4" height="2.4" fill="#000" fill-opacity="0.63"/>
<path d="M1547.4 582.1V587.7M1545.2 582.1H1549.6M1545.2 587.7H1549.6" stroke="#000" stroke-width="1.1" fill="none" stroke-opacity="0.79"/>
<path d="M1547.4 583.1V588.0M1545.2 583.1H1549.6M1545.2 588.0H1549.6" stroke="#000" stroke-width="1.1" fill="none" stroke-opacity="0.61"/>
<rect x="1546.2" y="584.3" width="2.4" height="2.4" fill="#000" fill-opacity="0.61"/>
<path d="M1547.4 584.0V588.3M1545.2 584.0H1549.6M1545.2 588.3H1549.6" stroke="#000" stroke-width="1.1" fill="none" stroke-opacity="0.88"/>
<rect x="1546.2" y="585.0" width="2.4" height="2.4" fill="#000" fill-opacity="0.88"/>
<path d="M1547.4 585.0V588.6M1545.2 585.0H1549.6M1545.2 588.6H1549.6" stroke="#000" stroke-width="1.1" fill="none" stroke-opacity="0.72"/>
<rect x="1546.2" y="585.6" width="2.4" height="2.4" fill="#000" fill-opacity="0.72"/>
<path d="M1544.0 570.3V578.6M1541.8 570.3H1546.2M1541.8 578.6H1546.2" stroke="#000" stroke-width="1.1" fill="none" stroke-opacity="0.65"/>
<path d="M1544.0 577.4V585.1M1541.8 577.4H1546.2M1541.8 585.1H1546.2" stroke="#000" stroke-width="1.1" fill="none" stroke-opacity="0.89"/>
<path d="M1544.0 580.8V587.8M1541.8 580.8H1546.2M1541.8 587.8H1546.2" stroke="#000" stroke-width="1.1" fill="none" stroke-opacity="0.77"/>
<rect x="1542.8" y="583.1" width="2.4" height="2.4" fill="#000" fill-opacity="0.77"/>
<path d="M1544.0 583.2V589.5M1541.8 583.2H1546.2M1541.8 589.5H1546.2" stroke="#000" stroke-width="1.1" fill="none" stroke-opacity="0.68"/>
<path d="M1544.0 584.5V590.1M1541.8 584.5H1546.2M1541.8 590.1H1546.2" stroke="#000" stroke-width="1.1" fill="none" stroke-opacity="0.86"/>
<path d="M1544.0 585.5V590.4M1541.8 585.5H1546.2M1541.8 590.4H1546.2" stroke="#000" stroke-width="1.1" fill="none" stroke-opacity="0.90"/>
<path d="M1544.0 586.4V590.7M1541.8 586.4H1546.2M1541.8 590.7H1546.2" stroke="#000" stroke-width="1.1" fill="none" stroke-opacity="0.73"/>
<path d="M1544.0 587.4V591.0M1541.8 587.4H1546.2M1541.8 591.0H1546.2" stroke="#000" stroke-width="1.1" fill="none" stroke-opacity="0.67"/>
<path d="M1540.7 572.3V580.6M1538.5 572.3H1542.9M1538.5 580.6H1542.9" stroke="#000" stroke-width="1.1" fill="none" stroke-opacity="0.78"/>
<path d="M1540.7 579.6V587.3M1538.5 579.6H1542.9M1538.5 587.3H1542.9" stroke="#000" stroke-width="1.1" fill="none" stroke-opacity="0.79"/>
<path d="M1540.7 583.1V590.1M1538.5 583.1H1542.9M1538.5 590.1H1542.9" stroke="#000" stroke-width="1.1" fill="none" stroke-opacity="0.61"/>
<path d="M1540.7 585.5V591.8M1538.5 585.5H1542.9M1538.5 591.8H1542.9" stroke="#000" stroke-width="1.1" fill="none" stroke-opacity="0.74"/>
<path d="M1540.7 586.8V592.4M1538.5 586.8H1542.9M1538.5 592.4H1542.9" stroke="#000" stroke-width="1.1" fill="none" stroke-opacity="0.77"/>
<rect x="1539.5" y="588.4" width="2.4" height="2.4" fill="#000" fill-opacity="0.77"/>
<path d="M1540.7 587.8V592.8M1538.5 587.8H1542.9M1538.5 592.8H1542.9" stroke="#000" stroke-width="1.1" fill="none" stroke-opacity="0.79"/>
<rect x="1539.5" y="589.1" width="2.4" height="2.4" fill="#000" fill-opacity="0.79"/>
<path d="M1540.7 588.8V593.0M1538.5 588.8H1542.9M1538.5 593.0H1542.9" stroke="#000" stroke-width="1.1" fill="none" stroke-opacity="0.93"/>
<path d="M1540.7 589.8V593.4M1538.5 589.8H1542.9M1538.5 593.4H1542.9" stroke="#000" stroke-width="1.1" fill="none" stroke-opacity="0.77"/>
<rect x="1539.5" y="590.4" width="2.4" height="2.4" fill="#000" fill-opacity="0.77"/>
<path d="M1537.7 574.3V582.6M1535.5 574.3H1539.9M1535.5 582.6H1539.9" stroke="#000" stroke-width="1.1" fill="none" stroke-opacity="0.75"/>
<path d="M1537.7 581.6V589.3M1535.5 581.6H1539.9M1535.5 589.3H1539.9" stroke="#000" stroke-width="1.1" fill="none" stroke-opacity="0.77"/>
<rect x="1536.5" y="584.2" width="2.4" height="2.4" fill="#000" fill-opacity="0.77"/>
<path d="M1537.7 585.1V592.1M1535.5 585.1H1539.9M1535.5 592.1H1539.9" stroke="#000" stroke-width="1.1" fill="none" stroke-opacity="0.67"/>
<path d="M1537.7 587.5V593.8M1535.5 587.5H1539.9M1535.5 593.8H1539.9" stroke="#000" stroke-width="1.1" fill="none" stroke-opacity="0.65"/>
<rect x="1536.5" y="589.5" width="2.4" height="2.4" fill="#000" fill-opacity="0.65"/>
<path d="M1537.7 588.8V594.4M1535.5 588.8H1539.9M1535.5 594.4H1539.9" stroke="#000" stroke-width="1.1" fill="none" stroke-opacity="0.67"/>
<rect x="1536.5" y="590.4" width="2.4" height="2.4" fill="#000" fill-opacity="0.67"/>
<path d="M1537.7 589.8V594.7M1535.5 589.8H1539.9M1535.5 594.7H1539.9" stroke="#000" stroke-width="1.1" fill="none" stroke-opacity="0.84"/>
<rect x="1536.5" y="591.1" width="2.4" height="2.4" fill="#000" fill-opacity="0.84"/>
<path d="M1537.7 590.8V595.0M1535.5 590.8H1539.9M1535.5 595.0H1539.9" stroke="#000" stroke-width="1.1" fill="none" stroke-opacity="0.72"/>
<rect x="1536.5" y="591.7" width="2.4" height="2.4" fill="#000" fill-opacity="0.72"/>
<path d="M1537.7 591.8V595.3M1535.5 591.8H1539.9M1535.5 595.3H1539.9" stroke="#000" stroke-width="1.1" fill="none" stroke-opacity="0.86"/>
<rect x="1536.5" y="592.4" width="2.4" height="2.4" fill="#000" fill-opacity="0.86"/>
<path d="M1698.6 270.8V275.6M1696.4 270.8H1700.8M1696.4 275.6H1700.8" stroke="#000" stroke-width="1.1" fill="none" stroke-opacity="0.78"/>
<path d="M1674.5 306.6V311.4M1672.3 306.6H1676.7M1672.3 311.4H1676.7" stroke="#000" stroke-width="1.1" fill="none" stroke-opacity="0.67"/>
<path d="M1657.4 347.2V352.0M1655.2 347.2H1659.6M1655.2 352.0H1659.6" stroke="#000" stroke-width="1.1" fill="none" stroke-opacity="0.75"/>
<path d="M1644.2 383.4V388.2M1642.0 383.4H1646.4M1642.0 388.2H1646.4" stroke="#000" stroke-width="1.1" fill="none" stroke-opacity="0.74"/>
<path d="M1633.3 412.1V416.8M1631.1 412.1H1635.5M1631.1 416.8H1635.5" stroke="#000" stroke-width="1.1" fill="none" stroke-opacity="0.66"/>
<path d="M1624.2 436.0V440.7M1622.0 436.0H1626.4M1622.0 440.7H1626.4" stroke="#000" stroke-width="1.1" fill="none" stroke-opacity="0.82"/>
<path d="M1616.2 455.8V460.6M1614.0 455.8H1618.4M1614.0 460.6H1618.4" stroke="#000" stroke-width="1.1" fill="none" stroke-opacity="0.79"/>
<path d="M1609.2 470.4V475.2M1607.0 470.4H1611.4M1607.0 475.2H1611.4" stroke="#000" stroke-width="1.1" fill="none" stroke-opacity="0.81"/>
<path d="M1603.0 483.7V488.5M1600.8 483.7H1605.2M1600.8 488.5H1605.2" stroke="#000" stroke-width="1.1" fill="none" stroke-opacity="0.68"/>
<path d="M1597.3 494.1V498.9M1595.1 494.1H1599.5M1595.1 498.9H1599.5" stroke="#000" stroke-width="1.1" fill="none" stroke-opacity="0.88"/>
<path d="M1592.1 503.6V508.4M1589.9 503.6H1594.3M1589.9 508.4H1594.3" stroke="#000" stroke-width="1.1" fill="none" stroke-opacity="0.71"/>
<path d="M1587.4 511.0V515.8M1585.2 511.0H1589.6M1585.2 515.8H1589.6" stroke="#000" stroke-width="1.1" fill="none" stroke-opacity="0.92"/>
<path d="M1583.0 517.9V522.7M1580.8 517.9H1585.2M1580.8 522.7H1585.2" stroke="#000" stroke-width="1.1" fill="none" stroke-opacity="0.95"/>
<path d="M1578.9 524.3V529.1M1576.7 524.3H1581.1M1576.7 529.1H1581.1" stroke="#000" stroke-width="1.1" fill="none" stroke-opacity="0.65"/>
<path d="M1575.0 528.1V532.8M1572.8 528.1H1577.2M1572.8 532.8H1577.2" stroke="#000" stroke-width="1.1" fill="none" stroke-opacity="0.85"/>
<path d="M1571.4 531.6V536.4M1569.2 531.6H1573.6M1569.2 536.4H1573.6" stroke="#000" stroke-width="1.1" fill="none" stroke-opacity="0.63"/>
<path d="M1568.0 534.9V539.7M1565.8 534.9H1570.2M1565.8 539.7H1570.2" stroke="#000" stroke-width="1.1" fill="none" stroke-opacity="0.75"/>
<path d="M1564.8 538.0V542.8M1562.6 538.0H1567.0M1562.6 542.8H1567.0" stroke="#000" stroke-width="1.1" fill="none" stroke-opacity="0.64"/>
<path d="M1561.8 541.0V545.8M1559.6 541.0H1564.0M1559.6 545.8H1564.0" stroke="#000" stroke-width="1.1" fill="none" stroke-opacity="0.84"/>
<rect x="1560.6" y="542.2" width="2.4" height="2.4" fill="#000" fill-opacity="0.84"/>
<path d="M1691.6 277.5V282.3M1689.4 277.5H1693.8M1689.4 282.3H1693.8" stroke="#000" stroke-width="1.1" fill="none" stroke-opacity="0.67"/>
<path d="M1674.5 304.2V309.0M1672.3 304.2H1676.7M1672.3 309.0H1676.7" stroke="#000" stroke-width="1.1" fill="none" stroke-opacity="0.92"/>
<path d="M1661.2 334.5V339.2M1659.0 334.5H1663.4M1659.0 339.2H1663.4" stroke="#000" stroke-width="1.1" fill="none" stroke-opacity="0.64"/>
<path d="M1650.4 361.6V366.4M1648.2 361.6H1652.6M1648.2 366.4H1652.6" stroke="#000" stroke-width="1.1" fill="none" stroke-opacity="0.87"/>
<path d="M1641.3 385.7V390.5M1639.1 385.7H1643.5M1639.1 390.5H1643.5" stroke="#000" stroke-width="1.1" fill="none" stroke-opacity="0.84"/>
<rect x="1640.1" y="386.9" width="2.4" height="2.4" fill="#000" fill-opacity="0.84"/>
<path d="M1633.3 405.7V410.5M1631.1 405.7H1635.5M1631.1 410.5H1635.5" stroke="#000" stroke-width="1.1" fill="none" stroke-opacity="0.62"/>
<rect x="1632.1" y="406.9" width="2.4" height="2.4" fill="#000" fill-opacity="0.62"/>
<path d="M1626.3 419.1V423.9M1624.1 419.1H1628.5M1624.1 423.9H1628.5" stroke="#000" stroke-width="1.1" fill="none" stroke-opacity="0.61"/>
<path d="M1620.1 431.2V435.9M1617.9 431.2H1622.3M1617.9 435.9H1622.3" stroke="#000" stroke-width="1.1" fill="none" stroke-opacity="0.78"/>
<path d="M1614.4 443.4V448.2M1612.2 443.4H1616.6M1612.2 448.2H1616.6" stroke="#000" stroke-width="1.1" fill="none" stroke-opacity="0.65"/>
<rect x="1613.2" y="444.6" width="2.4" height="2.4" fill="#000" fill-opacity="0.65"/>
<path d="M1609.2 454.5V459.3M1607.0 454.5H1611.4M1607.0 459.3H1611.4" stroke="#000" stroke-width="1.1" fill="none" stroke-opacity="0.67"/>
<path d="M1604.5 465.7V470.5M1602.3 465.7H1606.7M1602.3 470.5H1606.7" stroke="#000" stroke-width="1.1" fill="none" stroke-opacity="0.95"/>
<path d="M1600.1 476.1V480.9M1597.9 476.1H1602.3M1597.9 480.9H1602.3" stroke="#000" stroke-width="1.1" fill="none" stroke-opacity="0.63"/>
<rect x="1598.9" y="477.3" width="2.4" height="2.4" fill="#000" fill-opacity="0.63"/>
<path d="M1596.0 485.8V490.6M1593.8 485.8H1598.2M1593.8 490.6H1598.2" stroke="#000" stroke-width="1.1" fill="none" stroke-opacity="0.93"/>
<path d="M1592.1 494.8V499.6M1589.9 494.8H1594.3M1589.9 499.6H1594.3" stroke="#000" stroke-width="1.1" fill="none" stroke-opacity="0.87"/>
<path d="M1588.5 502.3V507.1M1586.3 502.3H1590.7M1586.3 507.1H1590.7" stroke="#000" stroke-width="1.1" fill="none" stroke-opacity="0.76"/>
<path d="M1585.1 509.3V514.1M1582.9 509.3H1587.3M1582.9 514.1H1587.3" stroke="#000" stroke-width="1.1" fill="none" stroke-opacity="0.75"/>
<path d="M1581.9 516.0V520.8M1579.7 516.0H1584.1M1579.7 520.8H1584.1" stroke="#000" stroke-width="1.1" fill="none" stroke-opacity="0.60"/>
<path d="M1578.9 522.3V527.1M1576.7 522.3H1581.1M1576.7 527.1H1581.1" stroke="#000" stroke-width="1.1" fill="none" stroke-opacity="0.90"/>
<rect x="1577.7" y="523.5" width="2.4" height="2.4" fill="#000" fill-opacity="0.90"/>
<path d="M1704.8 266.0V270.8M1702.6 266.0H1707.0M1702.6 270.8H1707.0" stroke="#000" stroke-width="1.1" fill="none" stroke-opacity="0.76"/>
<path d="M1687.8 281.5V286.3M1685.6 281.5H1690.0M1685.6 286.3H1690.0" stroke="#000" stroke-width="1.1" fill="none" stroke-opacity="0.74"/>
<rect x="1686.6" y="282.7" width="2.4" height="2.4" fill="#000" fill-opacity="0.74"/>
<path d="M1674.5 303.4V308.2M1672.3 303.4H1676.7M1672.3 308.2H1676.7" stroke="#000" stroke-width="1.1" fill="none" stroke-opacity="0.66"/>
<path d="M1663.7 326.0V330.8M1661.5 326.0H1665.9M1661.5 330.8H1665.9" stroke="#000" stroke-width="1.1" fill="none" stroke-opacity="0.61"/>
<path d="M1654.5 348.3V353.1M1652.3 348.3H1656.7M1652.3 353.1H1656.7" stroke="#000" stroke-width="1.1" fill="none" stroke-opacity="0.88"/>
<path d="M1646.6 368.3V373.1M1644.4 368.3H1648.8M1644.4 373.1H1648.8" stroke="#000" stroke-width="1.1" fill="none" stroke-opacity="0.90"/>
<path d="M1639.6 384.5V389.2M1637.4 384.5H1641.8M1637.4 389.2H1641.8" stroke="#000" stroke-width="1.1" fill="none" stroke-opacity="0.74"/>
<path d="M1633.3 398.9V403.7M1631.1 398.9H1635.5M1631.1 403.7H1635.5" stroke="#000" stroke-width="1.1" fill="none" stroke-opacity="0.78"/>
<path d="M1627.7 411.7V416.5M1625.5 411.7H1629.9M1625.5 416.5H1629.9" stroke="#000" stroke-width="1.1" fill="none" stroke-opacity="0.88"/>
<path d="M1622.5 423.3V428.1M1620.3 423.3H1624.7M1620.3 428.1H1624.7" stroke="#000" stroke-width="1.1" fill="none" stroke-opacity="0.92"/>
<path d="M1617.7 434.3V439.1M1615.5 434.3H1619.9M1615.5 439.1H1619.9" stroke="#000" stroke-width="1.1" fill="none" stroke-opacity="0.87"/>
<path d="M1613.3 444.8V449.6M1611.1 444.8H1615.5M1611.1 449.6H1615.5" stroke="#000" stroke-width="1.1" fill="none" stroke-opacity="0.74"/>
<path d="M1609.2 454.5V459.3M1607.0 454.5H1611.4M1607.0 459.3H1611.4" stroke="#000" stroke-width="1.1" fill="none" stroke-opacity="0.91"/>
<path d="M1605.4 463.5V468.2M1603.2 463.5H1607.6M1603.2 468.2H1607.6" stroke="#000" stroke-width="1.1" fill="none" stroke-opacity="0.87"/>
<path d="M1601.8 471.9V476.7M1599.6 471.9H1604.0M1599.6 476.7H1604.0" stroke="#000" stroke-width="1.1" fill="none" stroke-opacity="0.74"/>
<path d="M1598.4 479.8V484.6M1596.2 479.8H1600.6M1596.2 484.6H1600.6" stroke="#000" stroke-width="1.1" fill="none" stroke-opacity="0.62"/>
<path d="M1595.2 487.3V492.1M1593.0 487.3H1597.4M1593.0 492.1H1597.4" stroke="#000" stroke-width="1.1" fill="none" stroke-opacity="0.76"/>
<rect x="1594.0" y="488.5" width="2.4" height="2.4" fill="#000" fill-opacity="0.76"/>
<path d="M1592.1 494.5V499.2M1589.9 494.5H1594.3M1589.9 499.2H1594.3" stroke="#000" stroke-width="1.1" fill="none" stroke-opacity="0.72"/>
<path d="M1698.6 270.4V275.2M1696.4 270.4H1700.8M1696.4 275.2H1700.8" stroke="#000" stroke-width="1.1" fill="none" stroke-opacity="0.82"/>
<path d="M1685.3 284.3V289.1M1683.1 284.3H1687.5M1683.1 289.1H1687.5" stroke="#000" stroke-width="1.1" fill="none" stroke-opacity="0.93"/>
<path d="M1674.5 303.0V307.8M1672.3 303.0H1676.7M1672.3 307.8H1676.7" stroke="#000" stroke-width="1.1" fill="none" stroke-opacity="0.72"/>
<path d="M1665.3 322.1V326.9M1663.1 322.1H1667.5M1663.1 326.9H1667.5" stroke="#000" stroke-width="1.1" fill="none" stroke-opacity="0.80"/>
<path d="M1657.4 340.0V344.8M1655.2 340.0H1659.6M1655.2 344.8H1659.6" stroke="#000" stroke-width="1.1" fill="none" stroke-opacity="0.74"/>
<path d="M1650.4 354.3V359.1M1648.2 354.3H1652.6M1648.2 359.1H1652.6" stroke="#000" stroke-width="1.1" fill="none" stroke-opacity="0.82"/>
<path d="M1644.2 367.1V371.9M1642.0 367.1H1646.4M1642.0 371.9H1646.4" stroke="#000" stroke-width="1.1" fill="none" stroke-opacity="0.87"/>
<path d="M1638.5 381.7V386.4M1636.3 381.7H1640.7M1636.3 386.4H1640.7" stroke="#000" stroke-width="1.1" fill="none" stroke-opacity="0.61"/>
<path d="M1633.3 395.0V399.7M1631.1 395.0H1635.5M1631.1 399.7H1635.5" stroke="#000" stroke-width="1.1" fill="none" stroke-opacity="0.86"/>
<path d="M1628.6 406.4V411.1M1626.4 406.4H1630.8M1626.4 411.1H1630.8" stroke="#000" stroke-width="1.1" fill="none" stroke-opacity="0.74"/>
<rect x="1627.4" y="407.6" width="2.4" height="2.4" fill="#000" fill-opacity="0.74"/>
<path d="M1624.2 416.9V421.7M1622.0 416.9H1626.4M1622.0 421.7H1626.4" stroke="#000" stroke-width="1.1" fill="none" stroke-opacity="0.67"/>
<path d="M1620.1 426.8V431.6M1617.9 426.8H1622.3M1617.9 431.6H1622.3" stroke="#000" stroke-width="1.1" fill="none" stroke-opacity="0.63"/>
<path d="M1616.2 438.0V442.8M1614.0 438.0H1618.4M1614.0 442.8H1618.4" stroke="#000" stroke-width="1.1" fill="none" stroke-opacity="0.92"/>
<path d="M1612.6 448.5V453.3M1610.4 448.5H1614.8M1610.4 453.3H1614.8" stroke="#000" stroke-width="1.1" fill="none" stroke-opacity="0.78"/>
<path d="M1609.2 458.5V463.2M1607.0 458.5H1611.4M1607.0 463.2H1611.4" stroke="#000" stroke-width="1.1" fill="none" stroke-opacity="0.80"/>
<path d="M1606.0 465.7V470.5M1603.8 465.7H1608.2M1603.8 470.5H1608.2" stroke="#000" stroke-width="1.1" fill="none" stroke-opacity="0.82"/>
<path d="M1603.0 472.6V477.3M1600.8 472.6H1605.2M1600.8 477.3H1605.2" stroke="#000" stroke-width="1.1" fill="none" stroke-opacity="0.63"/>
<path d="M1702.4 267.6V272.4M1700.2 267.6H1704.6M1700.2 272.4H1704.6" stroke="#000" stroke-width="1.1" fill="none" stroke-opacity="0.87"/>
<rect x="1701.2" y="268.8" width="2.4" height="2.4" fill="#000" fill-opacity="0.87"/>
<path d="M1691.6 276.1V280.9M1689.4 276.1H1693.8M1689.4 280.9H1693.8" stroke="#000" stroke-width="1.1" fill="none" stroke-opacity="0.93"/>
<rect x="1690.4" y="277.3" width="2.4" height="2.4" fill="#000" fill-opacity="0.93"/>
<path d="M1682.4 288.3V293.1M1680.2 288.3H1684.6M1680.2 293.1H1684.6" stroke="#000" stroke-width="1.1" fill="none" stroke-opacity="0.77"/>
<rect x="1681.2" y="289.5" width="2.4" height="2.4" fill="#000" fill-opacity="0.77"/>
<path d="M1674.5 301.4V306.2M1672.3 301.4H1676.7M1672.3 306.2H1676.7" stroke="#000" stroke-width="1.1" fill="none" stroke-opacity="0.77"/>
<path d="M1667.5 317.2V322.0M1665.3 317.2H1669.7M1665.3 322.0H1669.7" stroke="#000" stroke-width="1.1" fill="none" stroke-opacity="0.62"/>
<path d="M1661.2 331.3V336.0M1659.0 331.3H1663.4M1659.0 336.0H1663.4" stroke="#000" stroke-width="1.1" fill="none" stroke-opacity="0.75"/>
<path d="M1655.6 343.8V348.6M1653.4 343.8H1657.8M1653.4 348.6H1657.8" stroke="#000" stroke-width="1.1" fill="none" stroke-opacity="0.81"/>
<path d="M1650.4 355.2V360.0M1648.2 355.2H1652.6M1648.2 360.0H1652.6" stroke="#000" stroke-width="1.1" fill="none" stroke-opacity="0.70"/>
<path d="M1645.7 365.7V370.5M1643.5 365.7H1647.9M1643.5 370.5H1647.9" stroke="#000" stroke-width="1.1" fill="none" stroke-opacity="0.80"/>
<path d="M1641.3 375.4V380.2M1639.1 375.4H1643.5M1639.1 380.2H1643.5" stroke="#000" stroke-width="1.1" fill="none" stroke-opacity="0.85"/>
<path d="M1637.2 384.5V389.3M1635.0 384.5H1639.4M1635.0 389.3H1639.4" stroke="#000" stroke-width="1.1" fill="none" stroke-opacity="0.60"/>
<path d="M1633.3 393.0V397.7M1631.1 393.0H1635.5M1631.1 397.7H1635.5" stroke="#000" stroke-width="1.1" fill="none" stroke-opacity="0.61"/>
<rect x="1632.1" y="394.2" width="2.4" height="2.4" fill="#000" fill-opacity="0.61"/>
<path d="M1629.7 401.1V405.8M1627.5 401.1H1631.9M1627.5 405.8H1631.9" stroke="#000" stroke-width="1.1" fill="none" stroke-opacity="0.86"/>
<path d="M1626.3 408.7V413.5M1624.1 408.7H1628.5M1624.1 413.5H1628.5" stroke="#000" stroke-width="1.1" fill="none" stroke-opacity="0.91"/>
<path d="M1623.1 416.0V420.7M1620.9 416.0H1625.3M1620.9 420.7H1625.3" stroke="#000" stroke-width="1.1" fill="none" stroke-opacity="0.62"/>
<path d="M1620.1 422.8V427.6M1617.9 422.8H1622.3M1617.9 427.6H1622.3" stroke="#000" stroke-width="1.1" fill="none" stroke-opacity="0.93"/>
<rect x="1618.9" y="424.0" width="2.4" height="2.4" fill="#000" fill-opacity="0.93"/>
<rect x="1527.5" y="249.8" width="284.5" height="359.09999999999997" fill="none" stroke="#000" stroke-width="1.1"/>
<line x1="1521.00" y1="266.00" x2="1527.50" y2="266.00" stroke="#1a1a1a" stroke-width="1.1" />
<text transform="translate(1479.60,274.10) scale(0.9982,1.0000)" font-size="21.5" ><tspan>1.0</tspan></text>
<line x1="1521.00" y1="345.60" x2="1527.50" y2="345.60" stroke="#1a1a1a" stroke-width="1.1" />
<text transform="translate(1477.08,353.70) scale(1.0938,1.0000)" font-size="21.5" ><tspan>0.8</tspan></text>
<line x1="1521.00" y1="425.20" x2="1527.50" y2="425.20" stroke="#1a1a1a" stroke-width="1.1" />
<text transform="translate(1477.08,433.30) scale(1.0938,1.0000)" font-size="21.5" ><tspan>0.6</tspan></text>
<line x1="1521.00" y1="504.80" x2="1527.50" y2="504.80" stroke="#1a1a1a" stroke-width="1.1" />
<text transform="translate(1477.09,512.90) scale(1.0842,1.0000)" font-size="21.5" ><tspan>0.4</tspan></text>
<line x1="1521.00" y1="584.40" x2="1527.50" y2="584.40" stroke="#1a1a1a" stroke-width="1.1" />
<text transform="translate(1477.08,592.50) scale(1.0938,1.0000)" font-size="21.5" ><tspan>0.2</tspan></text>
<line x1="1531.44" y1="608.90" x2="1531.44" y2="613.40" stroke="#1a1a1a" stroke-width="1.1" />
<line x1="1537.70" y1="608.90" x2="1537.70" y2="615.50" stroke="#1a1a1a" stroke-width="1.1" />
<line x1="1578.88" y1="608.90" x2="1578.88" y2="613.40" stroke="#1a1a1a" stroke-width="1.1" />
<line x1="1602.97" y1="608.90" x2="1602.97" y2="613.40" stroke="#1a1a1a" stroke-width="1.1" />
<line x1="1620.06" y1="608.90" x2="1620.06" y2="613.40" stroke="#1a1a1a" stroke-width="1.1" />
<line x1="1633.32" y1="608.90" x2="1633.32" y2="613.40" stroke="#1a1a1a" stroke-width="1.1" />
<line x1="1644.15" y1="608.90" x2="1644.15" y2="613.40" stroke="#1a1a1a" stroke-width="1.1" />
<line x1="1653.31" y1="608.90" x2="1653.31" y2="613.40" stroke="#1a1a1a" stroke-width="1.1" />
<line x1="1661.24" y1="608.90" x2="1661.24" y2="613.40" stroke="#1a1a1a" stroke-width="1.1" />
<line x1="1668.24" y1="608.90" x2="1668.24" y2="613.40" stroke="#1a1a1a" stroke-width="1.1" />
<line x1="1674.50" y1="608.90" x2="1674.50" y2="615.50" stroke="#1a1a1a" stroke-width="1.1" />
<line x1="1715.68" y1="608.90" x2="1715.68" y2="613.40" stroke="#1a1a1a" stroke-width="1.1" />
<line x1="1739.77" y1="608.90" x2="1739.77" y2="613.40" stroke="#1a1a1a" stroke-width="1.1" />
<line x1="1756.86" y1="608.90" x2="1756.86" y2="613.40" stroke="#1a1a1a" stroke-width="1.1" />
<line x1="1770.12" y1="608.90" x2="1770.12" y2="613.40" stroke="#1a1a1a" stroke-width="1.1" />
<line x1="1780.95" y1="608.90" x2="1780.95" y2="613.40" stroke="#1a1a1a" stroke-width="1.1" />
<line x1="1790.11" y1="608.90" x2="1790.11" y2="613.40" stroke="#1a1a1a" stroke-width="1.1" />
<line x1="1798.04" y1="608.90" x2="1798.04" y2="613.40" stroke="#1a1a1a" stroke-width="1.1" />
<line x1="1805.04" y1="608.90" x2="1805.04" y2="613.40" stroke="#1a1a1a" stroke-width="1.1" />
<text transform="translate(1517.68,648.70) scale(1.0161,1.0000)" font-size="21.5" ><tspan>10</tspan></text>
<text transform="translate(1541.92,636.80) scale(0.9085,1.0000)" font-size="14" ><tspan>−1</tspan></text>
<text transform="translate(1655.25,648.70) scale(0.9655,1.0000)" font-size="21.5" ><tspan>10</tspan></text>
<text transform="translate(1680.13,636.80) scale(1.3481,1.0000)" font-size="14" ><tspan>0</tspan></text>
<text transform="translate(1649.58,696.40) scale(1.0876,1.0000)" font-size="27.5" ><tspan font-style="italic">L/d</tspan></text>
<text transform="translate(1462.30,575.19) rotate(-90) scale(1.1105,1.0000)" font-size="25.5" ><tspan>Success probability, </tspan><tspan font-family='"DejaVu Math TeX Gyre", "DejaVu Sans", serif' font-size="1.050em">𝒮</tspan></text>
</svg></body></html>
